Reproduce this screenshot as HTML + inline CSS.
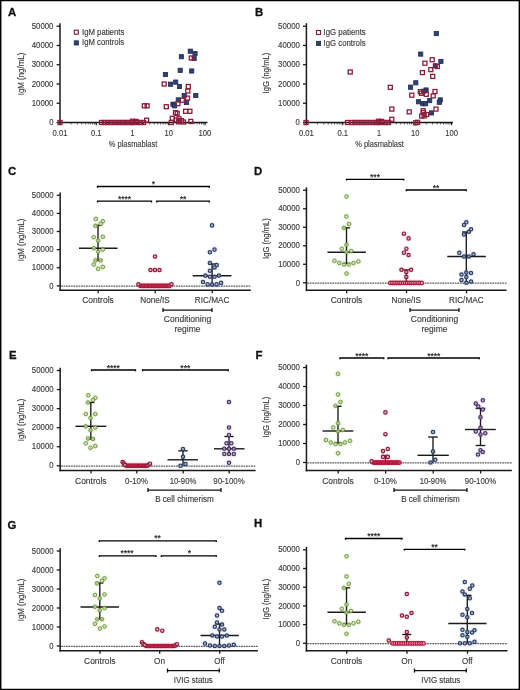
<!DOCTYPE html>
<html lang="en">
<head>
<meta charset="utf-8">
<title>Figure: IgM and IgG secretion</title>
<style>
html,body{margin:0;padding:0;background:#fff;}
body{width:520px;height:690px;overflow:hidden;}
svg{display:block;font-family:"Liberation Sans",sans-serif;}
</style>
</head>
<body>
<svg width="520" height="690" viewBox="0 0 520 690">
<rect width="520" height="690" fill="#fff"/>
<circle cx="95.80" cy="218.90" r="3.6" fill="#e6f5cf" fill-opacity="0.45"/>
<circle cx="102.80" cy="221.30" r="3.6" fill="#e6f5cf" fill-opacity="0.45"/>
<circle cx="100.70" cy="223.80" r="3.6" fill="#e6f5cf" fill-opacity="0.45"/>
<circle cx="95.50" cy="225.80" r="3.6" fill="#e6f5cf" fill-opacity="0.45"/>
<circle cx="93.70" cy="237.20" r="3.6" fill="#e6f5cf" fill-opacity="0.45"/>
<circle cx="102.80" cy="236.80" r="3.6" fill="#e6f5cf" fill-opacity="0.45"/>
<circle cx="98.10" cy="240.60" r="3.6" fill="#e6f5cf" fill-opacity="0.45"/>
<circle cx="93.90" cy="248.20" r="3.6" fill="#e6f5cf" fill-opacity="0.45"/>
<circle cx="102.80" cy="249.60" r="3.6" fill="#e6f5cf" fill-opacity="0.45"/>
<circle cx="98.20" cy="251.70" r="3.6" fill="#e6f5cf" fill-opacity="0.45"/>
<circle cx="95.50" cy="260.30" r="3.6" fill="#e6f5cf" fill-opacity="0.45"/>
<circle cx="100.70" cy="260.40" r="3.6" fill="#e6f5cf" fill-opacity="0.45"/>
<circle cx="93.80" cy="264.50" r="3.6" fill="#e6f5cf" fill-opacity="0.45"/>
<circle cx="102.80" cy="266.90" r="3.6" fill="#e6f5cf" fill-opacity="0.45"/>
<circle cx="98.10" cy="268.80" r="3.6" fill="#e6f5cf" fill-opacity="0.45"/>
<circle cx="140.50" cy="285.90" r="3.6" fill="#fbe3e8" fill-opacity="0.45"/>
<circle cx="141.88" cy="285.90" r="3.6" fill="#fbe3e8" fill-opacity="0.45"/>
<circle cx="143.26" cy="285.90" r="3.6" fill="#fbe3e8" fill-opacity="0.45"/>
<circle cx="144.64" cy="285.90" r="3.6" fill="#fbe3e8" fill-opacity="0.45"/>
<circle cx="146.02" cy="285.90" r="3.6" fill="#fbe3e8" fill-opacity="0.45"/>
<circle cx="147.40" cy="285.90" r="3.6" fill="#fbe3e8" fill-opacity="0.45"/>
<circle cx="148.79" cy="285.90" r="3.6" fill="#fbe3e8" fill-opacity="0.45"/>
<circle cx="150.17" cy="285.90" r="3.6" fill="#fbe3e8" fill-opacity="0.45"/>
<circle cx="151.55" cy="285.90" r="3.6" fill="#fbe3e8" fill-opacity="0.45"/>
<circle cx="152.93" cy="285.90" r="3.6" fill="#fbe3e8" fill-opacity="0.45"/>
<circle cx="154.31" cy="285.90" r="3.6" fill="#fbe3e8" fill-opacity="0.45"/>
<circle cx="155.69" cy="285.90" r="3.6" fill="#fbe3e8" fill-opacity="0.45"/>
<circle cx="157.07" cy="285.90" r="3.6" fill="#fbe3e8" fill-opacity="0.45"/>
<circle cx="158.45" cy="285.90" r="3.6" fill="#fbe3e8" fill-opacity="0.45"/>
<circle cx="159.83" cy="285.90" r="3.6" fill="#fbe3e8" fill-opacity="0.45"/>
<circle cx="161.21" cy="285.90" r="3.6" fill="#fbe3e8" fill-opacity="0.45"/>
<circle cx="162.60" cy="285.90" r="3.6" fill="#fbe3e8" fill-opacity="0.45"/>
<circle cx="163.98" cy="285.90" r="3.6" fill="#fbe3e8" fill-opacity="0.45"/>
<circle cx="165.36" cy="285.90" r="3.6" fill="#fbe3e8" fill-opacity="0.45"/>
<circle cx="166.74" cy="285.90" r="3.6" fill="#fbe3e8" fill-opacity="0.45"/>
<circle cx="168.12" cy="285.90" r="3.6" fill="#fbe3e8" fill-opacity="0.45"/>
<circle cx="169.50" cy="285.90" r="3.6" fill="#fbe3e8" fill-opacity="0.45"/>
<circle cx="138.40" cy="284.30" r="3.6" fill="#fbe3e8" fill-opacity="0.45"/>
<circle cx="171.50" cy="284.30" r="3.6" fill="#fbe3e8" fill-opacity="0.45"/>
<circle cx="155.00" cy="256.50" r="3.6" fill="#fbe3e8" fill-opacity="0.45"/>
<circle cx="150.50" cy="270.00" r="3.6" fill="#fbe3e8" fill-opacity="0.45"/>
<circle cx="155.00" cy="270.00" r="3.6" fill="#fbe3e8" fill-opacity="0.45"/>
<circle cx="159.50" cy="270.00" r="3.6" fill="#fbe3e8" fill-opacity="0.45"/>
<circle cx="212.10" cy="225.40" r="3.6" fill="#e0e8f6" fill-opacity="0.45"/>
<circle cx="214.50" cy="249.60" r="3.6" fill="#e0e8f6" fill-opacity="0.45"/>
<circle cx="209.90" cy="252.30" r="3.6" fill="#e0e8f6" fill-opacity="0.45"/>
<circle cx="209.90" cy="263.00" r="3.6" fill="#e0e8f6" fill-opacity="0.45"/>
<circle cx="216.70" cy="265.10" r="3.6" fill="#e0e8f6" fill-opacity="0.45"/>
<circle cx="214.50" cy="267.50" r="3.6" fill="#e0e8f6" fill-opacity="0.45"/>
<circle cx="209.90" cy="270.70" r="3.6" fill="#e0e8f6" fill-opacity="0.45"/>
<circle cx="205.40" cy="275.60" r="3.6" fill="#e0e8f6" fill-opacity="0.45"/>
<circle cx="209.90" cy="276.70" r="3.6" fill="#e0e8f6" fill-opacity="0.45"/>
<circle cx="214.50" cy="276.80" r="3.6" fill="#e0e8f6" fill-opacity="0.45"/>
<circle cx="218.90" cy="275.60" r="3.6" fill="#e0e8f6" fill-opacity="0.45"/>
<circle cx="203.00" cy="282.00" r="3.6" fill="#e0e8f6" fill-opacity="0.45"/>
<circle cx="221.10" cy="282.90" r="3.6" fill="#e0e8f6" fill-opacity="0.45"/>
<circle cx="207.60" cy="284.40" r="3.6" fill="#e0e8f6" fill-opacity="0.45"/>
<circle cx="212.10" cy="284.60" r="3.6" fill="#e0e8f6" fill-opacity="0.45"/>
<circle cx="216.60" cy="284.40" r="3.6" fill="#e0e8f6" fill-opacity="0.45"/>
<circle cx="346.50" cy="196.50" r="3.6" fill="#e6f5cf" fill-opacity="0.45"/>
<circle cx="346.30" cy="216.50" r="3.6" fill="#e6f5cf" fill-opacity="0.45"/>
<circle cx="349.00" cy="224.00" r="3.6" fill="#e6f5cf" fill-opacity="0.45"/>
<circle cx="344.00" cy="227.80" r="3.6" fill="#e6f5cf" fill-opacity="0.45"/>
<circle cx="346.50" cy="244.80" r="3.6" fill="#e6f5cf" fill-opacity="0.45"/>
<circle cx="341.80" cy="248.80" r="3.6" fill="#e6f5cf" fill-opacity="0.45"/>
<circle cx="351.20" cy="251.00" r="3.6" fill="#e6f5cf" fill-opacity="0.45"/>
<circle cx="346.50" cy="252.30" r="3.6" fill="#e6f5cf" fill-opacity="0.45"/>
<circle cx="334.50" cy="260.80" r="3.6" fill="#e6f5cf" fill-opacity="0.45"/>
<circle cx="358.30" cy="261.50" r="3.6" fill="#e6f5cf" fill-opacity="0.45"/>
<circle cx="339.30" cy="263.00" r="3.6" fill="#e6f5cf" fill-opacity="0.45"/>
<circle cx="353.50" cy="263.00" r="3.6" fill="#e6f5cf" fill-opacity="0.45"/>
<circle cx="344.00" cy="264.50" r="3.6" fill="#e6f5cf" fill-opacity="0.45"/>
<circle cx="348.80" cy="264.50" r="3.6" fill="#e6f5cf" fill-opacity="0.45"/>
<circle cx="346.50" cy="273.50" r="3.6" fill="#e6f5cf" fill-opacity="0.45"/>
<circle cx="390.30" cy="282.90" r="3.6" fill="#fbe3e8" fill-opacity="0.45"/>
<circle cx="392.40" cy="282.90" r="3.6" fill="#fbe3e8" fill-opacity="0.45"/>
<circle cx="394.50" cy="282.90" r="3.6" fill="#fbe3e8" fill-opacity="0.45"/>
<circle cx="396.60" cy="282.90" r="3.6" fill="#fbe3e8" fill-opacity="0.45"/>
<circle cx="398.70" cy="282.90" r="3.6" fill="#fbe3e8" fill-opacity="0.45"/>
<circle cx="400.80" cy="282.90" r="3.6" fill="#fbe3e8" fill-opacity="0.45"/>
<circle cx="402.90" cy="282.90" r="3.6" fill="#fbe3e8" fill-opacity="0.45"/>
<circle cx="405.00" cy="282.90" r="3.6" fill="#fbe3e8" fill-opacity="0.45"/>
<circle cx="407.10" cy="282.90" r="3.6" fill="#fbe3e8" fill-opacity="0.45"/>
<circle cx="409.20" cy="282.90" r="3.6" fill="#fbe3e8" fill-opacity="0.45"/>
<circle cx="411.30" cy="282.90" r="3.6" fill="#fbe3e8" fill-opacity="0.45"/>
<circle cx="413.40" cy="282.90" r="3.6" fill="#fbe3e8" fill-opacity="0.45"/>
<circle cx="415.50" cy="282.90" r="3.6" fill="#fbe3e8" fill-opacity="0.45"/>
<circle cx="417.60" cy="282.90" r="3.6" fill="#fbe3e8" fill-opacity="0.45"/>
<circle cx="419.70" cy="282.90" r="3.6" fill="#fbe3e8" fill-opacity="0.45"/>
<circle cx="421.80" cy="282.90" r="3.6" fill="#fbe3e8" fill-opacity="0.45"/>
<circle cx="403.90" cy="233.70" r="3.6" fill="#fbe3e8" fill-opacity="0.45"/>
<circle cx="408.60" cy="238.40" r="3.6" fill="#fbe3e8" fill-opacity="0.45"/>
<circle cx="406.40" cy="248.70" r="3.6" fill="#fbe3e8" fill-opacity="0.45"/>
<circle cx="403.90" cy="252.70" r="3.6" fill="#fbe3e8" fill-opacity="0.45"/>
<circle cx="408.60" cy="255.00" r="3.6" fill="#fbe3e8" fill-opacity="0.45"/>
<circle cx="401.50" cy="269.80" r="3.6" fill="#fbe3e8" fill-opacity="0.45"/>
<circle cx="411.10" cy="269.80" r="3.6" fill="#fbe3e8" fill-opacity="0.45"/>
<circle cx="406.30" cy="272.10" r="3.6" fill="#fbe3e8" fill-opacity="0.45"/>
<circle cx="406.30" cy="276.90" r="3.6" fill="#fbe3e8" fill-opacity="0.45"/>
<circle cx="466.30" cy="222.30" r="3.6" fill="#e0e8f6" fill-opacity="0.45"/>
<circle cx="464.00" cy="225.00" r="3.6" fill="#e0e8f6" fill-opacity="0.45"/>
<circle cx="471.00" cy="229.30" r="3.6" fill="#e0e8f6" fill-opacity="0.45"/>
<circle cx="468.80" cy="231.80" r="3.6" fill="#e0e8f6" fill-opacity="0.45"/>
<circle cx="464.00" cy="234.50" r="3.6" fill="#e0e8f6" fill-opacity="0.45"/>
<circle cx="459.30" cy="252.80" r="3.6" fill="#e0e8f6" fill-opacity="0.45"/>
<circle cx="473.50" cy="254.30" r="3.6" fill="#e0e8f6" fill-opacity="0.45"/>
<circle cx="464.00" cy="256.50" r="3.6" fill="#e0e8f6" fill-opacity="0.45"/>
<circle cx="468.80" cy="256.50" r="3.6" fill="#e0e8f6" fill-opacity="0.45"/>
<circle cx="466.30" cy="272.50" r="3.6" fill="#e0e8f6" fill-opacity="0.45"/>
<circle cx="471.00" cy="273.00" r="3.6" fill="#e0e8f6" fill-opacity="0.45"/>
<circle cx="461.50" cy="274.50" r="3.6" fill="#e0e8f6" fill-opacity="0.45"/>
<circle cx="466.30" cy="277.00" r="3.6" fill="#e0e8f6" fill-opacity="0.45"/>
<circle cx="461.50" cy="280.00" r="3.6" fill="#e0e8f6" fill-opacity="0.45"/>
<circle cx="471.00" cy="281.50" r="3.6" fill="#e0e8f6" fill-opacity="0.45"/>
<circle cx="466.30" cy="282.80" r="3.6" fill="#e0e8f6" fill-opacity="0.45"/>
<circle cx="88.30" cy="395.30" r="3.6" fill="#e6f5cf" fill-opacity="0.45"/>
<circle cx="95.30" cy="397.80" r="3.6" fill="#e6f5cf" fill-opacity="0.45"/>
<circle cx="93.00" cy="400.00" r="3.6" fill="#e6f5cf" fill-opacity="0.45"/>
<circle cx="88.00" cy="402.50" r="3.6" fill="#e6f5cf" fill-opacity="0.45"/>
<circle cx="85.80" cy="414.00" r="3.6" fill="#e6f5cf" fill-opacity="0.45"/>
<circle cx="95.30" cy="414.00" r="3.6" fill="#e6f5cf" fill-opacity="0.45"/>
<circle cx="90.50" cy="418.00" r="3.6" fill="#e6f5cf" fill-opacity="0.45"/>
<circle cx="85.80" cy="426.30" r="3.6" fill="#e6f5cf" fill-opacity="0.45"/>
<circle cx="95.30" cy="427.50" r="3.6" fill="#e6f5cf" fill-opacity="0.45"/>
<circle cx="90.50" cy="430.30" r="3.6" fill="#e6f5cf" fill-opacity="0.45"/>
<circle cx="88.00" cy="438.50" r="3.6" fill="#e6f5cf" fill-opacity="0.45"/>
<circle cx="93.00" cy="439.00" r="3.6" fill="#e6f5cf" fill-opacity="0.45"/>
<circle cx="85.80" cy="443.30" r="3.6" fill="#e6f5cf" fill-opacity="0.45"/>
<circle cx="95.30" cy="446.00" r="3.6" fill="#e6f5cf" fill-opacity="0.45"/>
<circle cx="90.50" cy="447.80" r="3.6" fill="#e6f5cf" fill-opacity="0.45"/>
<circle cx="126.50" cy="465.80" r="3.6" fill="#fbe3e8" fill-opacity="0.45"/>
<circle cx="127.53" cy="465.80" r="3.6" fill="#fbe3e8" fill-opacity="0.45"/>
<circle cx="128.55" cy="465.80" r="3.6" fill="#fbe3e8" fill-opacity="0.45"/>
<circle cx="129.57" cy="465.80" r="3.6" fill="#fbe3e8" fill-opacity="0.45"/>
<circle cx="130.60" cy="465.80" r="3.6" fill="#fbe3e8" fill-opacity="0.45"/>
<circle cx="131.62" cy="465.80" r="3.6" fill="#fbe3e8" fill-opacity="0.45"/>
<circle cx="132.65" cy="465.80" r="3.6" fill="#fbe3e8" fill-opacity="0.45"/>
<circle cx="133.68" cy="465.80" r="3.6" fill="#fbe3e8" fill-opacity="0.45"/>
<circle cx="134.70" cy="465.80" r="3.6" fill="#fbe3e8" fill-opacity="0.45"/>
<circle cx="135.72" cy="465.80" r="3.6" fill="#fbe3e8" fill-opacity="0.45"/>
<circle cx="136.75" cy="465.80" r="3.6" fill="#fbe3e8" fill-opacity="0.45"/>
<circle cx="137.78" cy="465.80" r="3.6" fill="#fbe3e8" fill-opacity="0.45"/>
<circle cx="138.80" cy="465.80" r="3.6" fill="#fbe3e8" fill-opacity="0.45"/>
<circle cx="139.82" cy="465.80" r="3.6" fill="#fbe3e8" fill-opacity="0.45"/>
<circle cx="140.85" cy="465.80" r="3.6" fill="#fbe3e8" fill-opacity="0.45"/>
<circle cx="141.88" cy="465.80" r="3.6" fill="#fbe3e8" fill-opacity="0.45"/>
<circle cx="142.90" cy="465.80" r="3.6" fill="#fbe3e8" fill-opacity="0.45"/>
<circle cx="143.93" cy="465.80" r="3.6" fill="#fbe3e8" fill-opacity="0.45"/>
<circle cx="144.95" cy="465.80" r="3.6" fill="#fbe3e8" fill-opacity="0.45"/>
<circle cx="145.97" cy="465.80" r="3.6" fill="#fbe3e8" fill-opacity="0.45"/>
<circle cx="147.00" cy="465.80" r="3.6" fill="#fbe3e8" fill-opacity="0.45"/>
<circle cx="122.60" cy="462.00" r="3.6" fill="#fbe3e8" fill-opacity="0.45"/>
<circle cx="123.80" cy="463.60" r="3.6" fill="#fbe3e8" fill-opacity="0.45"/>
<circle cx="125.00" cy="464.90" r="3.6" fill="#fbe3e8" fill-opacity="0.45"/>
<circle cx="148.50" cy="464.90" r="3.6" fill="#fbe3e8" fill-opacity="0.45"/>
<circle cx="150.00" cy="463.70" r="3.6" fill="#fbe3e8" fill-opacity="0.45"/>
<circle cx="183.00" cy="449.00" r="3.6" fill="#e0e8f6" fill-opacity="0.45"/>
<circle cx="183.00" cy="456.80" r="3.6" fill="#e0e8f6" fill-opacity="0.45"/>
<circle cx="180.50" cy="465.80" r="3.6" fill="#e0e8f6" fill-opacity="0.45"/>
<circle cx="185.50" cy="464.00" r="3.6" fill="#e0e8f6" fill-opacity="0.45"/>
<circle cx="229.00" cy="402.00" r="3.6" fill="#ece2f6" fill-opacity="0.45"/>
<circle cx="229.00" cy="427.50" r="3.6" fill="#ece2f6" fill-opacity="0.45"/>
<circle cx="229.00" cy="435.00" r="3.6" fill="#ece2f6" fill-opacity="0.45"/>
<circle cx="231.30" cy="443.30" r="3.6" fill="#ece2f6" fill-opacity="0.45"/>
<circle cx="226.50" cy="443.30" r="3.6" fill="#ece2f6" fill-opacity="0.45"/>
<circle cx="224.30" cy="448.80" r="3.6" fill="#ece2f6" fill-opacity="0.45"/>
<circle cx="229.00" cy="448.80" r="3.6" fill="#ece2f6" fill-opacity="0.45"/>
<circle cx="233.80" cy="448.80" r="3.6" fill="#ece2f6" fill-opacity="0.45"/>
<circle cx="224.30" cy="454.00" r="3.6" fill="#ece2f6" fill-opacity="0.45"/>
<circle cx="229.00" cy="454.00" r="3.6" fill="#ece2f6" fill-opacity="0.45"/>
<circle cx="233.80" cy="454.00" r="3.6" fill="#ece2f6" fill-opacity="0.45"/>
<circle cx="229.00" cy="462.80" r="3.6" fill="#ece2f6" fill-opacity="0.45"/>
<circle cx="338.00" cy="373.80" r="3.6" fill="#e6f5cf" fill-opacity="0.45"/>
<circle cx="338.00" cy="394.50" r="3.6" fill="#e6f5cf" fill-opacity="0.45"/>
<circle cx="340.50" cy="402.00" r="3.6" fill="#e6f5cf" fill-opacity="0.45"/>
<circle cx="335.50" cy="405.80" r="3.6" fill="#e6f5cf" fill-opacity="0.45"/>
<circle cx="338.00" cy="423.30" r="3.6" fill="#e6f5cf" fill-opacity="0.45"/>
<circle cx="333.30" cy="427.50" r="3.6" fill="#e6f5cf" fill-opacity="0.45"/>
<circle cx="342.80" cy="430.00" r="3.6" fill="#e6f5cf" fill-opacity="0.45"/>
<circle cx="338.00" cy="431.30" r="3.6" fill="#e6f5cf" fill-opacity="0.45"/>
<circle cx="326.00" cy="440.00" r="3.6" fill="#e6f5cf" fill-opacity="0.45"/>
<circle cx="350.00" cy="440.80" r="3.6" fill="#e6f5cf" fill-opacity="0.45"/>
<circle cx="330.80" cy="442.50" r="3.6" fill="#e6f5cf" fill-opacity="0.45"/>
<circle cx="345.00" cy="442.50" r="3.6" fill="#e6f5cf" fill-opacity="0.45"/>
<circle cx="335.50" cy="444.00" r="3.6" fill="#e6f5cf" fill-opacity="0.45"/>
<circle cx="340.50" cy="444.00" r="3.6" fill="#e6f5cf" fill-opacity="0.45"/>
<circle cx="338.00" cy="453.30" r="3.6" fill="#e6f5cf" fill-opacity="0.45"/>
<circle cx="373.50" cy="462.60" r="3.6" fill="#fbe3e8" fill-opacity="0.45"/>
<circle cx="374.87" cy="462.60" r="3.6" fill="#fbe3e8" fill-opacity="0.45"/>
<circle cx="376.24" cy="462.60" r="3.6" fill="#fbe3e8" fill-opacity="0.45"/>
<circle cx="377.61" cy="462.60" r="3.6" fill="#fbe3e8" fill-opacity="0.45"/>
<circle cx="378.97" cy="462.60" r="3.6" fill="#fbe3e8" fill-opacity="0.45"/>
<circle cx="380.34" cy="462.60" r="3.6" fill="#fbe3e8" fill-opacity="0.45"/>
<circle cx="381.71" cy="462.60" r="3.6" fill="#fbe3e8" fill-opacity="0.45"/>
<circle cx="383.08" cy="462.60" r="3.6" fill="#fbe3e8" fill-opacity="0.45"/>
<circle cx="384.45" cy="462.60" r="3.6" fill="#fbe3e8" fill-opacity="0.45"/>
<circle cx="385.82" cy="462.60" r="3.6" fill="#fbe3e8" fill-opacity="0.45"/>
<circle cx="387.18" cy="462.60" r="3.6" fill="#fbe3e8" fill-opacity="0.45"/>
<circle cx="388.55" cy="462.60" r="3.6" fill="#fbe3e8" fill-opacity="0.45"/>
<circle cx="389.92" cy="462.60" r="3.6" fill="#fbe3e8" fill-opacity="0.45"/>
<circle cx="391.29" cy="462.60" r="3.6" fill="#fbe3e8" fill-opacity="0.45"/>
<circle cx="392.66" cy="462.60" r="3.6" fill="#fbe3e8" fill-opacity="0.45"/>
<circle cx="394.03" cy="462.60" r="3.6" fill="#fbe3e8" fill-opacity="0.45"/>
<circle cx="395.39" cy="462.60" r="3.6" fill="#fbe3e8" fill-opacity="0.45"/>
<circle cx="396.76" cy="462.60" r="3.6" fill="#fbe3e8" fill-opacity="0.45"/>
<circle cx="398.13" cy="462.60" r="3.6" fill="#fbe3e8" fill-opacity="0.45"/>
<circle cx="399.50" cy="462.60" r="3.6" fill="#fbe3e8" fill-opacity="0.45"/>
<circle cx="371.60" cy="461.40" r="3.6" fill="#fbe3e8" fill-opacity="0.45"/>
<circle cx="385.40" cy="412.40" r="3.6" fill="#fbe3e8" fill-opacity="0.45"/>
<circle cx="385.40" cy="434.20" r="3.6" fill="#fbe3e8" fill-opacity="0.45"/>
<circle cx="387.80" cy="449.00" r="3.6" fill="#fbe3e8" fill-opacity="0.45"/>
<circle cx="383.00" cy="451.10" r="3.6" fill="#fbe3e8" fill-opacity="0.45"/>
<circle cx="383.00" cy="456.90" r="3.6" fill="#fbe3e8" fill-opacity="0.45"/>
<circle cx="387.80" cy="456.90" r="3.6" fill="#fbe3e8" fill-opacity="0.45"/>
<circle cx="433.00" cy="432.00" r="3.6" fill="#e0e8f6" fill-opacity="0.45"/>
<circle cx="433.00" cy="451.50" r="3.6" fill="#e0e8f6" fill-opacity="0.45"/>
<circle cx="435.30" cy="459.80" r="3.6" fill="#e0e8f6" fill-opacity="0.45"/>
<circle cx="430.50" cy="462.50" r="3.6" fill="#e0e8f6" fill-opacity="0.45"/>
<circle cx="482.80" cy="400.30" r="3.6" fill="#ece2f6" fill-opacity="0.45"/>
<circle cx="475.80" cy="403.50" r="3.6" fill="#ece2f6" fill-opacity="0.45"/>
<circle cx="478.30" cy="406.50" r="3.6" fill="#ece2f6" fill-opacity="0.45"/>
<circle cx="482.80" cy="409.50" r="3.6" fill="#ece2f6" fill-opacity="0.45"/>
<circle cx="480.50" cy="417.30" r="3.6" fill="#ece2f6" fill-opacity="0.45"/>
<circle cx="480.50" cy="427.80" r="3.6" fill="#ece2f6" fill-opacity="0.45"/>
<circle cx="475.80" cy="431.50" r="3.6" fill="#ece2f6" fill-opacity="0.45"/>
<circle cx="485.30" cy="433.30" r="3.6" fill="#ece2f6" fill-opacity="0.45"/>
<circle cx="480.50" cy="434.50" r="3.6" fill="#ece2f6" fill-opacity="0.45"/>
<circle cx="480.50" cy="450.30" r="3.6" fill="#ece2f6" fill-opacity="0.45"/>
<circle cx="482.80" cy="452.00" r="3.6" fill="#ece2f6" fill-opacity="0.45"/>
<circle cx="478.00" cy="454.50" r="3.6" fill="#ece2f6" fill-opacity="0.45"/>
<circle cx="97.30" cy="576.00" r="3.6" fill="#e6f5cf" fill-opacity="0.45"/>
<circle cx="104.50" cy="578.30" r="3.6" fill="#e6f5cf" fill-opacity="0.45"/>
<circle cx="102.00" cy="580.80" r="3.6" fill="#e6f5cf" fill-opacity="0.45"/>
<circle cx="97.00" cy="583.30" r="3.6" fill="#e6f5cf" fill-opacity="0.45"/>
<circle cx="95.00" cy="595.00" r="3.6" fill="#e6f5cf" fill-opacity="0.45"/>
<circle cx="104.50" cy="594.50" r="3.6" fill="#e6f5cf" fill-opacity="0.45"/>
<circle cx="99.80" cy="598.30" r="3.6" fill="#e6f5cf" fill-opacity="0.45"/>
<circle cx="95.00" cy="606.80" r="3.6" fill="#e6f5cf" fill-opacity="0.45"/>
<circle cx="104.50" cy="608.00" r="3.6" fill="#e6f5cf" fill-opacity="0.45"/>
<circle cx="99.80" cy="610.30" r="3.6" fill="#e6f5cf" fill-opacity="0.45"/>
<circle cx="97.30" cy="619.30" r="3.6" fill="#e6f5cf" fill-opacity="0.45"/>
<circle cx="102.00" cy="619.30" r="3.6" fill="#e6f5cf" fill-opacity="0.45"/>
<circle cx="95.00" cy="623.80" r="3.6" fill="#e6f5cf" fill-opacity="0.45"/>
<circle cx="104.50" cy="626.50" r="3.6" fill="#e6f5cf" fill-opacity="0.45"/>
<circle cx="99.80" cy="628.50" r="3.6" fill="#e6f5cf" fill-opacity="0.45"/>
<circle cx="146.50" cy="646.00" r="3.6" fill="#fbe3e8" fill-opacity="0.45"/>
<circle cx="147.88" cy="646.00" r="3.6" fill="#fbe3e8" fill-opacity="0.45"/>
<circle cx="149.25" cy="646.00" r="3.6" fill="#fbe3e8" fill-opacity="0.45"/>
<circle cx="150.62" cy="646.00" r="3.6" fill="#fbe3e8" fill-opacity="0.45"/>
<circle cx="152.00" cy="646.00" r="3.6" fill="#fbe3e8" fill-opacity="0.45"/>
<circle cx="153.38" cy="646.00" r="3.6" fill="#fbe3e8" fill-opacity="0.45"/>
<circle cx="154.75" cy="646.00" r="3.6" fill="#fbe3e8" fill-opacity="0.45"/>
<circle cx="156.12" cy="646.00" r="3.6" fill="#fbe3e8" fill-opacity="0.45"/>
<circle cx="157.50" cy="646.00" r="3.6" fill="#fbe3e8" fill-opacity="0.45"/>
<circle cx="158.88" cy="646.00" r="3.6" fill="#fbe3e8" fill-opacity="0.45"/>
<circle cx="160.25" cy="646.00" r="3.6" fill="#fbe3e8" fill-opacity="0.45"/>
<circle cx="161.62" cy="646.00" r="3.6" fill="#fbe3e8" fill-opacity="0.45"/>
<circle cx="163.00" cy="646.00" r="3.6" fill="#fbe3e8" fill-opacity="0.45"/>
<circle cx="164.38" cy="646.00" r="3.6" fill="#fbe3e8" fill-opacity="0.45"/>
<circle cx="165.75" cy="646.00" r="3.6" fill="#fbe3e8" fill-opacity="0.45"/>
<circle cx="167.12" cy="646.00" r="3.6" fill="#fbe3e8" fill-opacity="0.45"/>
<circle cx="168.50" cy="646.00" r="3.6" fill="#fbe3e8" fill-opacity="0.45"/>
<circle cx="169.88" cy="646.00" r="3.6" fill="#fbe3e8" fill-opacity="0.45"/>
<circle cx="171.25" cy="646.00" r="3.6" fill="#fbe3e8" fill-opacity="0.45"/>
<circle cx="172.62" cy="646.00" r="3.6" fill="#fbe3e8" fill-opacity="0.45"/>
<circle cx="174.00" cy="646.00" r="3.6" fill="#fbe3e8" fill-opacity="0.45"/>
<circle cx="141.90" cy="642.20" r="3.6" fill="#fbe3e8" fill-opacity="0.45"/>
<circle cx="143.20" cy="643.80" r="3.6" fill="#fbe3e8" fill-opacity="0.45"/>
<circle cx="144.80" cy="645.10" r="3.6" fill="#fbe3e8" fill-opacity="0.45"/>
<circle cx="175.40" cy="645.40" r="3.6" fill="#fbe3e8" fill-opacity="0.45"/>
<circle cx="176.90" cy="644.20" r="3.6" fill="#fbe3e8" fill-opacity="0.45"/>
<circle cx="157.30" cy="629.40" r="3.6" fill="#fbe3e8" fill-opacity="0.45"/>
<circle cx="162.30" cy="630.70" r="3.6" fill="#fbe3e8" fill-opacity="0.45"/>
<circle cx="219.50" cy="582.80" r="3.6" fill="#e0e8f6" fill-opacity="0.45"/>
<circle cx="219.50" cy="608.00" r="3.6" fill="#e0e8f6" fill-opacity="0.45"/>
<circle cx="222.00" cy="610.80" r="3.6" fill="#e0e8f6" fill-opacity="0.45"/>
<circle cx="217.00" cy="615.50" r="3.6" fill="#e0e8f6" fill-opacity="0.45"/>
<circle cx="217.00" cy="622.50" r="3.6" fill="#e0e8f6" fill-opacity="0.45"/>
<circle cx="222.00" cy="624.50" r="3.6" fill="#e0e8f6" fill-opacity="0.45"/>
<circle cx="214.80" cy="626.80" r="3.6" fill="#e0e8f6" fill-opacity="0.45"/>
<circle cx="219.50" cy="629.50" r="3.6" fill="#e0e8f6" fill-opacity="0.45"/>
<circle cx="224.30" cy="629.50" r="3.6" fill="#e0e8f6" fill-opacity="0.45"/>
<circle cx="212.30" cy="635.50" r="3.6" fill="#e0e8f6" fill-opacity="0.45"/>
<circle cx="217.00" cy="636.50" r="3.6" fill="#e0e8f6" fill-opacity="0.45"/>
<circle cx="222.00" cy="636.50" r="3.6" fill="#e0e8f6" fill-opacity="0.45"/>
<circle cx="226.80" cy="635.50" r="3.6" fill="#e0e8f6" fill-opacity="0.45"/>
<circle cx="205.00" cy="643.50" r="3.6" fill="#e0e8f6" fill-opacity="0.45"/>
<circle cx="210.00" cy="645.50" r="3.6" fill="#e0e8f6" fill-opacity="0.45"/>
<circle cx="214.80" cy="646.00" r="3.6" fill="#e0e8f6" fill-opacity="0.45"/>
<circle cx="219.50" cy="646.00" r="3.6" fill="#e0e8f6" fill-opacity="0.45"/>
<circle cx="224.30" cy="646.00" r="3.6" fill="#e0e8f6" fill-opacity="0.45"/>
<circle cx="229.00" cy="645.50" r="3.6" fill="#e0e8f6" fill-opacity="0.45"/>
<circle cx="233.80" cy="644.80" r="3.6" fill="#e0e8f6" fill-opacity="0.45"/>
<circle cx="346.50" cy="556.30" r="3.6" fill="#e6f5cf" fill-opacity="0.45"/>
<circle cx="346.50" cy="576.50" r="3.6" fill="#e6f5cf" fill-opacity="0.45"/>
<circle cx="348.80" cy="583.80" r="3.6" fill="#e6f5cf" fill-opacity="0.45"/>
<circle cx="344.00" cy="587.80" r="3.6" fill="#e6f5cf" fill-opacity="0.45"/>
<circle cx="346.50" cy="604.50" r="3.6" fill="#e6f5cf" fill-opacity="0.45"/>
<circle cx="341.80" cy="608.80" r="3.6" fill="#e6f5cf" fill-opacity="0.45"/>
<circle cx="351.00" cy="611.00" r="3.6" fill="#e6f5cf" fill-opacity="0.45"/>
<circle cx="346.50" cy="612.50" r="3.6" fill="#e6f5cf" fill-opacity="0.45"/>
<circle cx="334.50" cy="621.30" r="3.6" fill="#e6f5cf" fill-opacity="0.45"/>
<circle cx="358.30" cy="621.80" r="3.6" fill="#e6f5cf" fill-opacity="0.45"/>
<circle cx="339.30" cy="623.30" r="3.6" fill="#e6f5cf" fill-opacity="0.45"/>
<circle cx="353.50" cy="623.30" r="3.6" fill="#e6f5cf" fill-opacity="0.45"/>
<circle cx="344.00" cy="624.80" r="3.6" fill="#e6f5cf" fill-opacity="0.45"/>
<circle cx="348.80" cy="624.80" r="3.6" fill="#e6f5cf" fill-opacity="0.45"/>
<circle cx="346.50" cy="633.80" r="3.6" fill="#e6f5cf" fill-opacity="0.45"/>
<circle cx="392.60" cy="643.40" r="3.6" fill="#fbe3e8" fill-opacity="0.45"/>
<circle cx="394.81" cy="643.40" r="3.6" fill="#fbe3e8" fill-opacity="0.45"/>
<circle cx="397.03" cy="643.40" r="3.6" fill="#fbe3e8" fill-opacity="0.45"/>
<circle cx="399.24" cy="643.40" r="3.6" fill="#fbe3e8" fill-opacity="0.45"/>
<circle cx="401.46" cy="643.40" r="3.6" fill="#fbe3e8" fill-opacity="0.45"/>
<circle cx="403.67" cy="643.40" r="3.6" fill="#fbe3e8" fill-opacity="0.45"/>
<circle cx="405.89" cy="643.40" r="3.6" fill="#fbe3e8" fill-opacity="0.45"/>
<circle cx="408.10" cy="643.40" r="3.6" fill="#fbe3e8" fill-opacity="0.45"/>
<circle cx="410.31" cy="643.40" r="3.6" fill="#fbe3e8" fill-opacity="0.45"/>
<circle cx="412.53" cy="643.40" r="3.6" fill="#fbe3e8" fill-opacity="0.45"/>
<circle cx="414.74" cy="643.40" r="3.6" fill="#fbe3e8" fill-opacity="0.45"/>
<circle cx="416.96" cy="643.40" r="3.6" fill="#fbe3e8" fill-opacity="0.45"/>
<circle cx="419.17" cy="643.40" r="3.6" fill="#fbe3e8" fill-opacity="0.45"/>
<circle cx="421.39" cy="643.40" r="3.6" fill="#fbe3e8" fill-opacity="0.45"/>
<circle cx="423.60" cy="643.40" r="3.6" fill="#fbe3e8" fill-opacity="0.45"/>
<circle cx="388.80" cy="640.50" r="3.6" fill="#fbe3e8" fill-opacity="0.45"/>
<circle cx="406.80" cy="594.00" r="3.6" fill="#fbe3e8" fill-opacity="0.45"/>
<circle cx="402.00" cy="615.50" r="3.6" fill="#fbe3e8" fill-opacity="0.45"/>
<circle cx="406.80" cy="616.80" r="3.6" fill="#fbe3e8" fill-opacity="0.45"/>
<circle cx="411.50" cy="613.00" r="3.6" fill="#fbe3e8" fill-opacity="0.45"/>
<circle cx="406.80" cy="632.00" r="3.6" fill="#fbe3e8" fill-opacity="0.45"/>
<circle cx="406.80" cy="637.50" r="3.6" fill="#fbe3e8" fill-opacity="0.45"/>
<circle cx="464.80" cy="582.00" r="3.6" fill="#e0e8f6" fill-opacity="0.45"/>
<circle cx="472.30" cy="585.50" r="3.6" fill="#e0e8f6" fill-opacity="0.45"/>
<circle cx="469.80" cy="588.80" r="3.6" fill="#e0e8f6" fill-opacity="0.45"/>
<circle cx="462.50" cy="591.50" r="3.6" fill="#e0e8f6" fill-opacity="0.45"/>
<circle cx="464.80" cy="594.50" r="3.6" fill="#e0e8f6" fill-opacity="0.45"/>
<circle cx="469.80" cy="598.30" r="3.6" fill="#e0e8f6" fill-opacity="0.45"/>
<circle cx="467.30" cy="609.00" r="3.6" fill="#e0e8f6" fill-opacity="0.45"/>
<circle cx="462.50" cy="614.80" r="3.6" fill="#e0e8f6" fill-opacity="0.45"/>
<circle cx="472.00" cy="613.00" r="3.6" fill="#e0e8f6" fill-opacity="0.45"/>
<circle cx="467.30" cy="617.30" r="3.6" fill="#e0e8f6" fill-opacity="0.45"/>
<circle cx="462.50" cy="629.80" r="3.6" fill="#e0e8f6" fill-opacity="0.45"/>
<circle cx="474.50" cy="630.30" r="3.6" fill="#e0e8f6" fill-opacity="0.45"/>
<circle cx="467.30" cy="632.00" r="3.6" fill="#e0e8f6" fill-opacity="0.45"/>
<circle cx="472.00" cy="632.50" r="3.6" fill="#e0e8f6" fill-opacity="0.45"/>
<circle cx="462.50" cy="635.30" r="3.6" fill="#e0e8f6" fill-opacity="0.45"/>
<circle cx="467.30" cy="636.80" r="3.6" fill="#e0e8f6" fill-opacity="0.45"/>
<circle cx="474.50" cy="641.80" r="3.6" fill="#e0e8f6" fill-opacity="0.45"/>
<circle cx="460.00" cy="643.30" r="3.6" fill="#e0e8f6" fill-opacity="0.45"/>
<circle cx="464.80" cy="643.30" r="3.6" fill="#e0e8f6" fill-opacity="0.45"/>
<circle cx="469.80" cy="643.30" r="3.6" fill="#e0e8f6" fill-opacity="0.45"/>
<text x="7.90" y="16.00" font-size="11.4" text-anchor="start" font-weight="bold" fill="#111" stroke="#111" stroke-width="0.3" stroke-linejoin="round">A</text>
<line x1="60.00" y1="23.20" x2="60.00" y2="123.25" stroke="#1a1a1a" stroke-width="1.5"/>
<line x1="56.60" y1="26.20" x2="60.00" y2="26.20" stroke="#1a1a1a" stroke-width="1.3"/>
<text x="53.50" y="29.00" font-size="8.8" text-anchor="end" textLength="21.80" lengthAdjust="spacingAndGlyphs" fill="#3c3c3c" stroke="#3c3c3c" stroke-width="0.15">50000</text>
<line x1="56.60" y1="45.46" x2="60.00" y2="45.46" stroke="#1a1a1a" stroke-width="1.3"/>
<text x="53.50" y="48.00" font-size="8.8" text-anchor="end" textLength="21.80" lengthAdjust="spacingAndGlyphs" fill="#3c3c3c" stroke="#3c3c3c" stroke-width="0.15">40000</text>
<line x1="56.60" y1="64.72" x2="60.00" y2="64.72" stroke="#1a1a1a" stroke-width="1.3"/>
<text x="53.50" y="67.00" font-size="8.8" text-anchor="end" textLength="21.80" lengthAdjust="spacingAndGlyphs" fill="#3c3c3c" stroke="#3c3c3c" stroke-width="0.15">30000</text>
<line x1="56.60" y1="83.98" x2="60.00" y2="83.98" stroke="#1a1a1a" stroke-width="1.3"/>
<text x="53.50" y="87.00" font-size="8.8" text-anchor="end" textLength="21.80" lengthAdjust="spacingAndGlyphs" fill="#3c3c3c" stroke="#3c3c3c" stroke-width="0.15">20000</text>
<line x1="56.60" y1="103.24" x2="60.00" y2="103.24" stroke="#1a1a1a" stroke-width="1.3"/>
<text x="53.50" y="106.00" font-size="8.8" text-anchor="end" textLength="21.80" lengthAdjust="spacingAndGlyphs" fill="#3c3c3c" stroke="#3c3c3c" stroke-width="0.15">10000</text>
<line x1="56.60" y1="122.50" x2="60.00" y2="122.50" stroke="#1a1a1a" stroke-width="1.3"/>
<text x="53.50" y="125.00" font-size="8.8" text-anchor="end" textLength="4.30" lengthAdjust="spacingAndGlyphs" fill="#3c3c3c" stroke="#3c3c3c" stroke-width="0.15">0</text>
<text x="24.40" y="74.00" font-size="9.4" text-anchor="middle" textLength="42.60" lengthAdjust="spacingAndGlyphs" transform="rotate(-90 24.40 74.00)" fill="#3c3c3c" stroke="#3c3c3c" stroke-width="0.15">IgM (ng/mL)</text>
<line x1="59.30" y1="122.60" x2="207.50" y2="122.60" stroke="#1a1a1a" stroke-width="1.5"/>
<line x1="60.00" y1="122.50" x2="60.00" y2="125.30" stroke="#1a1a1a" stroke-width="1.2"/>
<line x1="70.91" y1="122.50" x2="70.91" y2="124.40" stroke="#1a1a1a" stroke-width="0.8"/>
<line x1="77.30" y1="122.50" x2="77.30" y2="124.40" stroke="#1a1a1a" stroke-width="0.8"/>
<line x1="81.82" y1="122.50" x2="81.82" y2="124.40" stroke="#1a1a1a" stroke-width="0.8"/>
<line x1="85.34" y1="122.50" x2="85.34" y2="124.40" stroke="#1a1a1a" stroke-width="0.8"/>
<line x1="88.21" y1="122.50" x2="88.21" y2="124.40" stroke="#1a1a1a" stroke-width="0.8"/>
<line x1="90.63" y1="122.50" x2="90.63" y2="124.40" stroke="#1a1a1a" stroke-width="0.8"/>
<line x1="92.74" y1="122.50" x2="92.74" y2="124.40" stroke="#1a1a1a" stroke-width="0.8"/>
<line x1="94.59" y1="122.50" x2="94.59" y2="124.40" stroke="#1a1a1a" stroke-width="0.8"/>
<line x1="96.25" y1="122.50" x2="96.25" y2="125.30" stroke="#1a1a1a" stroke-width="1.2"/>
<line x1="107.16" y1="122.50" x2="107.16" y2="124.40" stroke="#1a1a1a" stroke-width="0.8"/>
<line x1="113.55" y1="122.50" x2="113.55" y2="124.40" stroke="#1a1a1a" stroke-width="0.8"/>
<line x1="118.07" y1="122.50" x2="118.07" y2="124.40" stroke="#1a1a1a" stroke-width="0.8"/>
<line x1="121.59" y1="122.50" x2="121.59" y2="124.40" stroke="#1a1a1a" stroke-width="0.8"/>
<line x1="124.46" y1="122.50" x2="124.46" y2="124.40" stroke="#1a1a1a" stroke-width="0.8"/>
<line x1="126.88" y1="122.50" x2="126.88" y2="124.40" stroke="#1a1a1a" stroke-width="0.8"/>
<line x1="128.99" y1="122.50" x2="128.99" y2="124.40" stroke="#1a1a1a" stroke-width="0.8"/>
<line x1="130.84" y1="122.50" x2="130.84" y2="124.40" stroke="#1a1a1a" stroke-width="0.8"/>
<line x1="132.50" y1="122.50" x2="132.50" y2="125.30" stroke="#1a1a1a" stroke-width="1.2"/>
<line x1="143.41" y1="122.50" x2="143.41" y2="124.40" stroke="#1a1a1a" stroke-width="0.8"/>
<line x1="149.80" y1="122.50" x2="149.80" y2="124.40" stroke="#1a1a1a" stroke-width="0.8"/>
<line x1="154.32" y1="122.50" x2="154.32" y2="124.40" stroke="#1a1a1a" stroke-width="0.8"/>
<line x1="157.84" y1="122.50" x2="157.84" y2="124.40" stroke="#1a1a1a" stroke-width="0.8"/>
<line x1="160.71" y1="122.50" x2="160.71" y2="124.40" stroke="#1a1a1a" stroke-width="0.8"/>
<line x1="163.13" y1="122.50" x2="163.13" y2="124.40" stroke="#1a1a1a" stroke-width="0.8"/>
<line x1="165.24" y1="122.50" x2="165.24" y2="124.40" stroke="#1a1a1a" stroke-width="0.8"/>
<line x1="167.09" y1="122.50" x2="167.09" y2="124.40" stroke="#1a1a1a" stroke-width="0.8"/>
<line x1="168.75" y1="122.50" x2="168.75" y2="125.30" stroke="#1a1a1a" stroke-width="1.2"/>
<line x1="179.66" y1="122.50" x2="179.66" y2="124.40" stroke="#1a1a1a" stroke-width="0.8"/>
<line x1="186.05" y1="122.50" x2="186.05" y2="124.40" stroke="#1a1a1a" stroke-width="0.8"/>
<line x1="190.57" y1="122.50" x2="190.57" y2="124.40" stroke="#1a1a1a" stroke-width="0.8"/>
<line x1="194.09" y1="122.50" x2="194.09" y2="124.40" stroke="#1a1a1a" stroke-width="0.8"/>
<line x1="196.96" y1="122.50" x2="196.96" y2="124.40" stroke="#1a1a1a" stroke-width="0.8"/>
<line x1="199.38" y1="122.50" x2="199.38" y2="124.40" stroke="#1a1a1a" stroke-width="0.8"/>
<line x1="201.49" y1="122.50" x2="201.49" y2="124.40" stroke="#1a1a1a" stroke-width="0.8"/>
<line x1="203.34" y1="122.50" x2="203.34" y2="124.40" stroke="#1a1a1a" stroke-width="0.8"/>
<line x1="205.00" y1="122.50" x2="205.00" y2="125.30" stroke="#1a1a1a" stroke-width="1.2"/>
<text x="60.00" y="136.00" font-size="8.8" text-anchor="middle" textLength="15.00" lengthAdjust="spacingAndGlyphs" fill="#3c3c3c" stroke="#3c3c3c" stroke-width="0.15">0.01</text>
<text x="96.25" y="136.00" font-size="8.8" text-anchor="middle" textLength="10.60" lengthAdjust="spacingAndGlyphs" fill="#3c3c3c" stroke="#3c3c3c" stroke-width="0.15">0.1</text>
<text x="132.50" y="136.00" font-size="8.8" text-anchor="middle" textLength="4.00" lengthAdjust="spacingAndGlyphs" fill="#3c3c3c" stroke="#3c3c3c" stroke-width="0.15">1</text>
<text x="168.75" y="136.00" font-size="8.8" text-anchor="middle" textLength="8.40" lengthAdjust="spacingAndGlyphs" fill="#3c3c3c" stroke="#3c3c3c" stroke-width="0.15">10</text>
<text x="205.00" y="136.00" font-size="8.8" text-anchor="middle" textLength="12.80" lengthAdjust="spacingAndGlyphs" fill="#3c3c3c" stroke="#3c3c3c" stroke-width="0.15">100</text>
<text x="133.00" y="147.00" font-size="9.6" text-anchor="middle" textLength="48.50" lengthAdjust="spacingAndGlyphs" fill="#3c3c3c" stroke="#3c3c3c" stroke-width="0.15">% plasmablast</text>
<rect x="74.30" y="30.20" width="4.0" height="4.0" fill="none" stroke="#8e1d3b" stroke-width="1.15"/>
<text x="82.00" y="35.00" font-size="8.5" text-anchor="start" textLength="42.30" lengthAdjust="spacingAndGlyphs" fill="#3c3c3c" stroke="#3c3c3c" stroke-width="0.15">IgM patients</text>
<rect x="74.20" y="40.80" width="4.20" height="4.20" fill="#2e4173" stroke="#1f2c54" stroke-width="0.8"/>
<text x="82.00" y="45.00" font-size="8.5" text-anchor="start" textLength="42.10" lengthAdjust="spacingAndGlyphs" fill="#3c3c3c" stroke="#3c3c3c" stroke-width="0.15">IgM controls</text>
<rect x="188.20" y="49.10" width="4.20" height="4.20" fill="#2e4173" stroke="#1f2c54" stroke-width="0.8"/>
<rect x="192.90" y="51.50" width="4.20" height="4.20" fill="#2e4173" stroke="#1f2c54" stroke-width="0.8"/>
<rect x="179.30" y="54.60" width="4.20" height="4.20" fill="#2e4173" stroke="#1f2c54" stroke-width="0.8"/>
<rect x="192.00" y="56.40" width="4.20" height="4.20" fill="#2e4173" stroke="#1f2c54" stroke-width="0.8"/>
<rect x="178.10" y="68.20" width="4.20" height="4.20" fill="#2e4173" stroke="#1f2c54" stroke-width="0.8"/>
<rect x="189.60" y="68.90" width="4.20" height="4.20" fill="#2e4173" stroke="#1f2c54" stroke-width="0.8"/>
<rect x="163.30" y="72.40" width="4.20" height="4.20" fill="#2e4173" stroke="#1f2c54" stroke-width="0.8"/>
<rect x="173.60" y="80.00" width="4.20" height="4.20" fill="#2e4173" stroke="#1f2c54" stroke-width="0.8"/>
<rect x="168.50" y="82.10" width="4.20" height="4.20" fill="#2e4173" stroke="#1f2c54" stroke-width="0.8"/>
<rect x="177.40" y="84.40" width="4.20" height="4.20" fill="#2e4173" stroke="#1f2c54" stroke-width="0.8"/>
<rect x="193.70" y="93.40" width="4.20" height="4.20" fill="#2e4173" stroke="#1f2c54" stroke-width="0.8"/>
<rect x="182.10" y="93.40" width="4.20" height="4.20" fill="#2e4173" stroke="#1f2c54" stroke-width="0.8"/>
<rect x="176.20" y="97.80" width="4.20" height="4.20" fill="#2e4173" stroke="#1f2c54" stroke-width="0.8"/>
<rect x="184.30" y="100.40" width="4.20" height="4.20" fill="#2e4173" stroke="#1f2c54" stroke-width="0.8"/>
<rect x="170.90" y="102.10" width="4.20" height="4.20" fill="#2e4173" stroke="#1f2c54" stroke-width="0.8"/>
<rect x="172.50" y="103.70" width="4.20" height="4.20" fill="#2e4173" stroke="#1f2c54" stroke-width="0.8"/>
<rect x="189.30" y="56.00" width="4.0" height="4.0" fill="none" stroke="#8e1d3b" stroke-width="1.3"/>
<rect x="162.20" y="82.00" width="4.0" height="4.0" fill="none" stroke="#8e1d3b" stroke-width="1.3"/>
<rect x="186.30" y="84.50" width="4.0" height="4.0" fill="none" stroke="#8e1d3b" stroke-width="1.3"/>
<rect x="185.80" y="89.00" width="4.0" height="4.0" fill="none" stroke="#8e1d3b" stroke-width="1.3"/>
<rect x="185.50" y="96.10" width="4.0" height="4.0" fill="none" stroke="#8e1d3b" stroke-width="1.3"/>
<rect x="180.30" y="98.20" width="4.0" height="4.0" fill="none" stroke="#8e1d3b" stroke-width="1.3"/>
<rect x="175.90" y="101.70" width="4.0" height="4.0" fill="none" stroke="#8e1d3b" stroke-width="1.3"/>
<rect x="142.30" y="103.80" width="4.0" height="4.0" fill="none" stroke="#8e1d3b" stroke-width="1.3"/>
<rect x="145.10" y="103.80" width="4.0" height="4.0" fill="none" stroke="#8e1d3b" stroke-width="1.3"/>
<rect x="164.30" y="104.70" width="4.0" height="4.0" fill="none" stroke="#8e1d3b" stroke-width="1.3"/>
<rect x="183.60" y="109.30" width="4.0" height="4.0" fill="none" stroke="#8e1d3b" stroke-width="1.3"/>
<rect x="187.90" y="109.30" width="4.0" height="4.0" fill="none" stroke="#8e1d3b" stroke-width="1.3"/>
<rect x="173.50" y="110.70" width="4.0" height="4.0" fill="none" stroke="#8e1d3b" stroke-width="1.3"/>
<rect x="175.20" y="111.40" width="4.0" height="4.0" fill="none" stroke="#8e1d3b" stroke-width="1.3"/>
<rect x="170.30" y="116.30" width="4.0" height="4.0" fill="none" stroke="#8e1d3b" stroke-width="1.3"/>
<rect x="177.00" y="116.80" width="4.0" height="4.0" fill="none" stroke="#8e1d3b" stroke-width="1.3"/>
<rect x="174.20" y="118.00" width="4.0" height="4.0" fill="none" stroke="#8e1d3b" stroke-width="1.3"/>
<rect x="179.40" y="118.60" width="4.0" height="4.0" fill="none" stroke="#8e1d3b" stroke-width="1.3"/>
<rect x="144.60" y="118.20" width="4.0" height="4.0" fill="none" stroke="#8e1d3b" stroke-width="1.3"/>
<rect x="188.80" y="119.40" width="4.0" height="4.0" fill="none" stroke="#8e1d3b" stroke-width="1.3"/>
<rect x="169.30" y="120.50" width="4.0" height="4.0" fill="none" stroke="#8e1d3b" stroke-width="1.3"/>
<rect x="176.50" y="119.80" width="4.0" height="4.0" fill="none" stroke="#8e1d3b" stroke-width="1.3"/>
<rect x="181.50" y="120.00" width="4.0" height="4.0" fill="none" stroke="#8e1d3b" stroke-width="1.3"/>
<rect x="130.50" y="119.20" width="4.0" height="4.0" fill="none" stroke="#8e1d3b" stroke-width="1.3"/>
<rect x="134.00" y="119.40" width="4.0" height="4.0" fill="none" stroke="#8e1d3b" stroke-width="1.3"/>
<rect x="58.00" y="120.50" width="4.0" height="4.0" fill="none" stroke="#8e1d3b" stroke-width="1.3"/>
<rect x="99.50" y="120.50" width="4.0" height="4.0" fill="none" stroke="#8e1d3b" stroke-width="1.3"/>
<rect x="102.50" y="120.50" width="4.0" height="4.0" fill="none" stroke="#8e1d3b" stroke-width="1.3"/>
<rect x="105.50" y="120.50" width="4.0" height="4.0" fill="none" stroke="#8e1d3b" stroke-width="1.3"/>
<rect x="108.50" y="120.50" width="4.0" height="4.0" fill="none" stroke="#8e1d3b" stroke-width="1.3"/>
<rect x="111.00" y="120.50" width="4.0" height="4.0" fill="none" stroke="#8e1d3b" stroke-width="1.3"/>
<rect x="114.00" y="120.50" width="4.0" height="4.0" fill="none" stroke="#8e1d3b" stroke-width="1.3"/>
<rect x="116.50" y="120.50" width="4.0" height="4.0" fill="none" stroke="#8e1d3b" stroke-width="1.3"/>
<rect x="119.00" y="120.50" width="4.0" height="4.0" fill="none" stroke="#8e1d3b" stroke-width="1.3"/>
<rect x="121.50" y="120.50" width="4.0" height="4.0" fill="none" stroke="#8e1d3b" stroke-width="1.3"/>
<rect x="124.00" y="120.50" width="4.0" height="4.0" fill="none" stroke="#8e1d3b" stroke-width="1.3"/>
<rect x="126.50" y="120.50" width="4.0" height="4.0" fill="none" stroke="#8e1d3b" stroke-width="1.3"/>
<rect x="129.00" y="120.50" width="4.0" height="4.0" fill="none" stroke="#8e1d3b" stroke-width="1.3"/>
<rect x="132.00" y="120.50" width="4.0" height="4.0" fill="none" stroke="#8e1d3b" stroke-width="1.3"/>
<rect x="135.50" y="120.50" width="4.0" height="4.0" fill="none" stroke="#8e1d3b" stroke-width="1.3"/>
<rect x="138.50" y="120.50" width="4.0" height="4.0" fill="none" stroke="#8e1d3b" stroke-width="1.3"/>
<rect x="141.50" y="120.50" width="4.0" height="4.0" fill="none" stroke="#8e1d3b" stroke-width="1.3"/>
<text x="255.10" y="16.00" font-size="11.4" text-anchor="start" font-weight="bold" fill="#111" stroke="#111" stroke-width="0.3" stroke-linejoin="round">B</text>
<line x1="306.40" y1="23.20" x2="306.40" y2="123.25" stroke="#1a1a1a" stroke-width="1.5"/>
<line x1="303.00" y1="26.20" x2="306.40" y2="26.20" stroke="#1a1a1a" stroke-width="1.3"/>
<text x="299.90" y="29.00" font-size="8.8" text-anchor="end" textLength="21.80" lengthAdjust="spacingAndGlyphs" fill="#3c3c3c" stroke="#3c3c3c" stroke-width="0.15">50000</text>
<line x1="303.00" y1="45.46" x2="306.40" y2="45.46" stroke="#1a1a1a" stroke-width="1.3"/>
<text x="299.90" y="48.00" font-size="8.8" text-anchor="end" textLength="21.80" lengthAdjust="spacingAndGlyphs" fill="#3c3c3c" stroke="#3c3c3c" stroke-width="0.15">40000</text>
<line x1="303.00" y1="64.72" x2="306.40" y2="64.72" stroke="#1a1a1a" stroke-width="1.3"/>
<text x="299.90" y="67.00" font-size="8.8" text-anchor="end" textLength="21.80" lengthAdjust="spacingAndGlyphs" fill="#3c3c3c" stroke="#3c3c3c" stroke-width="0.15">30000</text>
<line x1="303.00" y1="83.98" x2="306.40" y2="83.98" stroke="#1a1a1a" stroke-width="1.3"/>
<text x="299.90" y="87.00" font-size="8.8" text-anchor="end" textLength="21.80" lengthAdjust="spacingAndGlyphs" fill="#3c3c3c" stroke="#3c3c3c" stroke-width="0.15">20000</text>
<line x1="303.00" y1="103.24" x2="306.40" y2="103.24" stroke="#1a1a1a" stroke-width="1.3"/>
<text x="299.90" y="106.00" font-size="8.8" text-anchor="end" textLength="21.80" lengthAdjust="spacingAndGlyphs" fill="#3c3c3c" stroke="#3c3c3c" stroke-width="0.15">10000</text>
<line x1="303.00" y1="122.50" x2="306.40" y2="122.50" stroke="#1a1a1a" stroke-width="1.3"/>
<text x="299.90" y="125.00" font-size="8.8" text-anchor="end" textLength="4.30" lengthAdjust="spacingAndGlyphs" fill="#3c3c3c" stroke="#3c3c3c" stroke-width="0.15">0</text>
<text x="269.30" y="73.00" font-size="9.4" text-anchor="middle" textLength="40.80" lengthAdjust="spacingAndGlyphs" transform="rotate(-90 269.30 73.00)" fill="#3c3c3c" stroke="#3c3c3c" stroke-width="0.15">IgG (ng/mL)</text>
<line x1="305.70" y1="122.60" x2="453.00" y2="122.60" stroke="#1a1a1a" stroke-width="1.5"/>
<line x1="306.40" y1="122.50" x2="306.40" y2="125.30" stroke="#1a1a1a" stroke-width="1.2"/>
<line x1="317.33" y1="122.50" x2="317.33" y2="124.40" stroke="#1a1a1a" stroke-width="0.8"/>
<line x1="323.72" y1="122.50" x2="323.72" y2="124.40" stroke="#1a1a1a" stroke-width="0.8"/>
<line x1="328.25" y1="122.50" x2="328.25" y2="124.40" stroke="#1a1a1a" stroke-width="0.8"/>
<line x1="331.77" y1="122.50" x2="331.77" y2="124.40" stroke="#1a1a1a" stroke-width="0.8"/>
<line x1="334.65" y1="122.50" x2="334.65" y2="124.40" stroke="#1a1a1a" stroke-width="0.8"/>
<line x1="337.08" y1="122.50" x2="337.08" y2="124.40" stroke="#1a1a1a" stroke-width="0.8"/>
<line x1="339.18" y1="122.50" x2="339.18" y2="124.40" stroke="#1a1a1a" stroke-width="0.8"/>
<line x1="341.04" y1="122.50" x2="341.04" y2="124.40" stroke="#1a1a1a" stroke-width="0.8"/>
<line x1="342.70" y1="122.50" x2="342.70" y2="125.30" stroke="#1a1a1a" stroke-width="1.2"/>
<line x1="353.63" y1="122.50" x2="353.63" y2="124.40" stroke="#1a1a1a" stroke-width="0.8"/>
<line x1="360.02" y1="122.50" x2="360.02" y2="124.40" stroke="#1a1a1a" stroke-width="0.8"/>
<line x1="364.55" y1="122.50" x2="364.55" y2="124.40" stroke="#1a1a1a" stroke-width="0.8"/>
<line x1="368.07" y1="122.50" x2="368.07" y2="124.40" stroke="#1a1a1a" stroke-width="0.8"/>
<line x1="370.95" y1="122.50" x2="370.95" y2="124.40" stroke="#1a1a1a" stroke-width="0.8"/>
<line x1="373.38" y1="122.50" x2="373.38" y2="124.40" stroke="#1a1a1a" stroke-width="0.8"/>
<line x1="375.48" y1="122.50" x2="375.48" y2="124.40" stroke="#1a1a1a" stroke-width="0.8"/>
<line x1="377.34" y1="122.50" x2="377.34" y2="124.40" stroke="#1a1a1a" stroke-width="0.8"/>
<line x1="379.00" y1="122.50" x2="379.00" y2="125.30" stroke="#1a1a1a" stroke-width="1.2"/>
<line x1="389.93" y1="122.50" x2="389.93" y2="124.40" stroke="#1a1a1a" stroke-width="0.8"/>
<line x1="396.32" y1="122.50" x2="396.32" y2="124.40" stroke="#1a1a1a" stroke-width="0.8"/>
<line x1="400.85" y1="122.50" x2="400.85" y2="124.40" stroke="#1a1a1a" stroke-width="0.8"/>
<line x1="404.37" y1="122.50" x2="404.37" y2="124.40" stroke="#1a1a1a" stroke-width="0.8"/>
<line x1="407.25" y1="122.50" x2="407.25" y2="124.40" stroke="#1a1a1a" stroke-width="0.8"/>
<line x1="409.68" y1="122.50" x2="409.68" y2="124.40" stroke="#1a1a1a" stroke-width="0.8"/>
<line x1="411.78" y1="122.50" x2="411.78" y2="124.40" stroke="#1a1a1a" stroke-width="0.8"/>
<line x1="413.64" y1="122.50" x2="413.64" y2="124.40" stroke="#1a1a1a" stroke-width="0.8"/>
<line x1="415.30" y1="122.50" x2="415.30" y2="125.30" stroke="#1a1a1a" stroke-width="1.2"/>
<line x1="426.23" y1="122.50" x2="426.23" y2="124.40" stroke="#1a1a1a" stroke-width="0.8"/>
<line x1="432.62" y1="122.50" x2="432.62" y2="124.40" stroke="#1a1a1a" stroke-width="0.8"/>
<line x1="437.15" y1="122.50" x2="437.15" y2="124.40" stroke="#1a1a1a" stroke-width="0.8"/>
<line x1="440.67" y1="122.50" x2="440.67" y2="124.40" stroke="#1a1a1a" stroke-width="0.8"/>
<line x1="443.55" y1="122.50" x2="443.55" y2="124.40" stroke="#1a1a1a" stroke-width="0.8"/>
<line x1="445.98" y1="122.50" x2="445.98" y2="124.40" stroke="#1a1a1a" stroke-width="0.8"/>
<line x1="448.08" y1="122.50" x2="448.08" y2="124.40" stroke="#1a1a1a" stroke-width="0.8"/>
<line x1="449.94" y1="122.50" x2="449.94" y2="124.40" stroke="#1a1a1a" stroke-width="0.8"/>
<line x1="451.60" y1="122.50" x2="451.60" y2="125.30" stroke="#1a1a1a" stroke-width="1.2"/>
<text x="306.40" y="136.00" font-size="8.8" text-anchor="middle" textLength="15.00" lengthAdjust="spacingAndGlyphs" fill="#3c3c3c" stroke="#3c3c3c" stroke-width="0.15">0.01</text>
<text x="342.70" y="136.00" font-size="8.8" text-anchor="middle" textLength="10.60" lengthAdjust="spacingAndGlyphs" fill="#3c3c3c" stroke="#3c3c3c" stroke-width="0.15">0.1</text>
<text x="379.00" y="136.00" font-size="8.8" text-anchor="middle" textLength="4.00" lengthAdjust="spacingAndGlyphs" fill="#3c3c3c" stroke="#3c3c3c" stroke-width="0.15">1</text>
<text x="415.30" y="136.00" font-size="8.8" text-anchor="middle" textLength="8.40" lengthAdjust="spacingAndGlyphs" fill="#3c3c3c" stroke="#3c3c3c" stroke-width="0.15">10</text>
<text x="451.60" y="136.00" font-size="8.8" text-anchor="middle" textLength="12.80" lengthAdjust="spacingAndGlyphs" fill="#3c3c3c" stroke="#3c3c3c" stroke-width="0.15">100</text>
<text x="379.50" y="147.00" font-size="9.6" text-anchor="middle" textLength="48.50" lengthAdjust="spacingAndGlyphs" fill="#3c3c3c" stroke="#3c3c3c" stroke-width="0.15">% plasmablast</text>
<rect x="316.50" y="30.50" width="4.0" height="4.0" fill="none" stroke="#8e1d3b" stroke-width="1.15"/>
<text x="323.50" y="35.00" font-size="8.5" text-anchor="start" textLength="42.30" lengthAdjust="spacingAndGlyphs" fill="#3c3c3c" stroke="#3c3c3c" stroke-width="0.15">IgG patients</text>
<rect x="316.40" y="41.30" width="4.20" height="4.20" fill="#2e4173" stroke="#1f2c54" stroke-width="0.8"/>
<text x="323.50" y="46.00" font-size="8.5" text-anchor="start" textLength="42.10" lengthAdjust="spacingAndGlyphs" fill="#3c3c3c" stroke="#3c3c3c" stroke-width="0.15">IgG controls</text>
<rect x="434.20" y="31.50" width="4.20" height="4.20" fill="#2e4173" stroke="#1f2c54" stroke-width="0.8"/>
<rect x="418.60" y="52.00" width="4.20" height="4.20" fill="#2e4173" stroke="#1f2c54" stroke-width="0.8"/>
<rect x="438.80" y="59.30" width="4.20" height="4.20" fill="#2e4173" stroke="#1f2c54" stroke-width="0.8"/>
<rect x="433.20" y="63.70" width="4.20" height="4.20" fill="#2e4173" stroke="#1f2c54" stroke-width="0.8"/>
<rect x="413.70" y="80.70" width="4.20" height="4.20" fill="#2e4173" stroke="#1f2c54" stroke-width="0.8"/>
<rect x="408.50" y="85.10" width="4.20" height="4.20" fill="#2e4173" stroke="#1f2c54" stroke-width="0.8"/>
<rect x="424.00" y="87.90" width="4.20" height="4.20" fill="#2e4173" stroke="#1f2c54" stroke-width="0.8"/>
<rect x="421.70" y="89.10" width="4.20" height="4.20" fill="#2e4173" stroke="#1f2c54" stroke-width="0.8"/>
<rect x="438.10" y="97.80" width="4.20" height="4.20" fill="#2e4173" stroke="#1f2c54" stroke-width="0.8"/>
<rect x="427.60" y="98.50" width="4.20" height="4.20" fill="#2e4173" stroke="#1f2c54" stroke-width="0.8"/>
<rect x="416.50" y="99.70" width="4.20" height="4.20" fill="#2e4173" stroke="#1f2c54" stroke-width="0.8"/>
<rect x="437.20" y="100.20" width="4.20" height="4.20" fill="#2e4173" stroke="#1f2c54" stroke-width="0.8"/>
<rect x="420.70" y="101.60" width="4.20" height="4.20" fill="#2e4173" stroke="#1f2c54" stroke-width="0.8"/>
<rect x="423.50" y="101.60" width="4.20" height="4.20" fill="#2e4173" stroke="#1f2c54" stroke-width="0.8"/>
<rect x="429.40" y="110.80" width="4.20" height="4.20" fill="#2e4173" stroke="#1f2c54" stroke-width="0.8"/>
<rect x="348.25" y="70.00" width="4.0" height="4.0" fill="none" stroke="#8e1d3b" stroke-width="1.3"/>
<rect x="430.20" y="57.70" width="4.0" height="4.0" fill="none" stroke="#8e1d3b" stroke-width="1.3"/>
<rect x="422.90" y="61.20" width="4.0" height="4.0" fill="none" stroke="#8e1d3b" stroke-width="1.3"/>
<rect x="435.40" y="64.50" width="4.0" height="4.0" fill="none" stroke="#8e1d3b" stroke-width="1.3"/>
<rect x="428.80" y="67.60" width="4.0" height="4.0" fill="none" stroke="#8e1d3b" stroke-width="1.3"/>
<rect x="420.40" y="70.60" width="4.0" height="4.0" fill="none" stroke="#8e1d3b" stroke-width="1.3"/>
<rect x="430.70" y="74.40" width="4.0" height="4.0" fill="none" stroke="#8e1d3b" stroke-width="1.3"/>
<rect x="388.30" y="85.30" width="4.0" height="4.0" fill="none" stroke="#8e1d3b" stroke-width="1.3"/>
<rect x="433.00" y="89.50" width="4.0" height="4.0" fill="none" stroke="#8e1d3b" stroke-width="1.3"/>
<rect x="418.30" y="89.70" width="4.0" height="4.0" fill="none" stroke="#8e1d3b" stroke-width="1.3"/>
<rect x="419.40" y="91.30" width="4.0" height="4.0" fill="none" stroke="#8e1d3b" stroke-width="1.3"/>
<rect x="424.30" y="92.30" width="4.0" height="4.0" fill="none" stroke="#8e1d3b" stroke-width="1.3"/>
<rect x="409.80" y="93.20" width="4.0" height="4.0" fill="none" stroke="#8e1d3b" stroke-width="1.3"/>
<rect x="431.20" y="93.90" width="4.0" height="4.0" fill="none" stroke="#8e1d3b" stroke-width="1.3"/>
<rect x="389.80" y="107.10" width="4.0" height="4.0" fill="none" stroke="#8e1d3b" stroke-width="1.3"/>
<rect x="434.00" y="107.10" width="4.0" height="4.0" fill="none" stroke="#8e1d3b" stroke-width="1.3"/>
<rect x="421.10" y="108.70" width="4.0" height="4.0" fill="none" stroke="#8e1d3b" stroke-width="1.3"/>
<rect x="407.20" y="109.90" width="4.0" height="4.0" fill="none" stroke="#8e1d3b" stroke-width="1.3"/>
<rect x="421.50" y="110.60" width="4.0" height="4.0" fill="none" stroke="#8e1d3b" stroke-width="1.3"/>
<rect x="424.60" y="112.50" width="4.0" height="4.0" fill="none" stroke="#8e1d3b" stroke-width="1.3"/>
<rect x="419.70" y="114.00" width="4.0" height="4.0" fill="none" stroke="#8e1d3b" stroke-width="1.3"/>
<rect x="422.20" y="113.90" width="4.0" height="4.0" fill="none" stroke="#8e1d3b" stroke-width="1.3"/>
<rect x="389.80" y="117.30" width="4.0" height="4.0" fill="none" stroke="#8e1d3b" stroke-width="1.3"/>
<rect x="415.60" y="120.30" width="4.0" height="4.0" fill="none" stroke="#8e1d3b" stroke-width="1.3"/>
<rect x="413.70" y="120.80" width="4.0" height="4.0" fill="none" stroke="#8e1d3b" stroke-width="1.3"/>
<rect x="376.50" y="119.20" width="4.0" height="4.0" fill="none" stroke="#8e1d3b" stroke-width="1.3"/>
<rect x="379.50" y="119.40" width="4.0" height="4.0" fill="none" stroke="#8e1d3b" stroke-width="1.3"/>
<rect x="304.00" y="120.50" width="4.0" height="4.0" fill="none" stroke="#8e1d3b" stroke-width="1.3"/>
<rect x="345.50" y="120.50" width="4.0" height="4.0" fill="none" stroke="#8e1d3b" stroke-width="1.3"/>
<rect x="350.00" y="120.50" width="4.0" height="4.0" fill="none" stroke="#8e1d3b" stroke-width="1.3"/>
<rect x="353.00" y="120.50" width="4.0" height="4.0" fill="none" stroke="#8e1d3b" stroke-width="1.3"/>
<rect x="356.00" y="120.50" width="4.0" height="4.0" fill="none" stroke="#8e1d3b" stroke-width="1.3"/>
<rect x="359.00" y="120.50" width="4.0" height="4.0" fill="none" stroke="#8e1d3b" stroke-width="1.3"/>
<rect x="362.00" y="120.50" width="4.0" height="4.0" fill="none" stroke="#8e1d3b" stroke-width="1.3"/>
<rect x="365.00" y="120.50" width="4.0" height="4.0" fill="none" stroke="#8e1d3b" stroke-width="1.3"/>
<rect x="368.00" y="120.50" width="4.0" height="4.0" fill="none" stroke="#8e1d3b" stroke-width="1.3"/>
<rect x="371.00" y="120.50" width="4.0" height="4.0" fill="none" stroke="#8e1d3b" stroke-width="1.3"/>
<rect x="374.00" y="120.50" width="4.0" height="4.0" fill="none" stroke="#8e1d3b" stroke-width="1.3"/>
<rect x="377.50" y="120.50" width="4.0" height="4.0" fill="none" stroke="#8e1d3b" stroke-width="1.3"/>
<rect x="381.00" y="120.50" width="4.0" height="4.0" fill="none" stroke="#8e1d3b" stroke-width="1.3"/>
<rect x="384.00" y="120.50" width="4.0" height="4.0" fill="none" stroke="#8e1d3b" stroke-width="1.3"/>
<rect x="386.50" y="120.50" width="4.0" height="4.0" fill="none" stroke="#8e1d3b" stroke-width="1.3"/>
<text x="8.10" y="175.00" font-size="11.4" text-anchor="start" font-weight="bold" fill="#111" stroke="#111" stroke-width="0.3" stroke-linejoin="round">C</text>
<line x1="61.00" y1="286.20" x2="250.80" y2="286.20" stroke="#5e5e5e" stroke-width="1.25" stroke-dasharray="1.8 0.7"/>
<line x1="60.15" y1="192.40" x2="60.15" y2="291.05" stroke="#1a1a1a" stroke-width="1.5"/>
<line x1="56.75" y1="195.25" x2="60.15" y2="195.25" stroke="#1a1a1a" stroke-width="1.3"/>
<text x="53.65" y="198.00" font-size="8.8" text-anchor="end" textLength="21.80" lengthAdjust="spacingAndGlyphs" fill="#3c3c3c" stroke="#3c3c3c" stroke-width="0.15">50000</text>
<line x1="56.75" y1="213.38" x2="60.15" y2="213.38" stroke="#1a1a1a" stroke-width="1.3"/>
<text x="53.65" y="216.00" font-size="8.8" text-anchor="end" textLength="21.80" lengthAdjust="spacingAndGlyphs" fill="#3c3c3c" stroke="#3c3c3c" stroke-width="0.15">40000</text>
<line x1="56.75" y1="231.51" x2="60.15" y2="231.51" stroke="#1a1a1a" stroke-width="1.3"/>
<text x="53.65" y="234.00" font-size="8.8" text-anchor="end" textLength="21.80" lengthAdjust="spacingAndGlyphs" fill="#3c3c3c" stroke="#3c3c3c" stroke-width="0.15">30000</text>
<line x1="56.75" y1="249.64" x2="60.15" y2="249.64" stroke="#1a1a1a" stroke-width="1.3"/>
<text x="53.65" y="252.00" font-size="8.8" text-anchor="end" textLength="21.80" lengthAdjust="spacingAndGlyphs" fill="#3c3c3c" stroke="#3c3c3c" stroke-width="0.15">20000</text>
<line x1="56.75" y1="267.77" x2="60.15" y2="267.77" stroke="#1a1a1a" stroke-width="1.3"/>
<text x="53.65" y="270.00" font-size="8.8" text-anchor="end" textLength="21.80" lengthAdjust="spacingAndGlyphs" fill="#3c3c3c" stroke="#3c3c3c" stroke-width="0.15">10000</text>
<line x1="56.75" y1="285.90" x2="60.15" y2="285.90" stroke="#1a1a1a" stroke-width="1.3"/>
<text x="53.65" y="289.00" font-size="8.8" text-anchor="end" textLength="4.30" lengthAdjust="spacingAndGlyphs" fill="#3c3c3c" stroke="#3c3c3c" stroke-width="0.15">0</text>
<text x="24.40" y="240.00" font-size="9.4" text-anchor="middle" textLength="42.60" lengthAdjust="spacingAndGlyphs" transform="rotate(-90 24.40 240.00)" fill="#3c3c3c" stroke="#3c3c3c" stroke-width="0.15">IgM (ng/mL)</text>
<line x1="59.40" y1="290.30" x2="250.80" y2="290.30" stroke="#1a1a1a" stroke-width="1.5"/>
<line x1="98.20" y1="290.40" x2="98.20" y2="293.30" stroke="#1a1a1a" stroke-width="1.3"/>
<text x="98.00" y="303.00" font-size="9.2" text-anchor="middle" textLength="31.50" lengthAdjust="spacingAndGlyphs" fill="#3c3c3c" stroke="#3c3c3c" stroke-width="0.15">Controls</text>
<line x1="155.20" y1="290.40" x2="155.20" y2="293.30" stroke="#1a1a1a" stroke-width="1.3"/>
<text x="155.00" y="303.00" font-size="9.2" text-anchor="middle" textLength="29.50" lengthAdjust="spacingAndGlyphs" fill="#3c3c3c" stroke="#3c3c3c" stroke-width="0.15">None/IS</text>
<line x1="212.30" y1="290.40" x2="212.30" y2="293.30" stroke="#1a1a1a" stroke-width="1.3"/>
<text x="212.10" y="303.00" font-size="9.2" text-anchor="middle" textLength="34.50" lengthAdjust="spacingAndGlyphs" fill="#3c3c3c" stroke="#3c3c3c" stroke-width="0.15">RIC/MAC</text>
<path d="M97.50 187.80V186.50H209.30V187.80" fill="none" stroke="#000" stroke-width="1.3"/>
<text x="153.30" y="187.00" font-size="8.5" text-anchor="middle" font-weight="bold" fill="#333">*</text>
<path d="M97.50 202.50V201.20H151.50V202.50" fill="none" stroke="#000" stroke-width="1.3"/>
<text x="124.50" y="202.00" font-size="8.5" text-anchor="middle" font-weight="bold" fill="#333">****</text>
<path d="M156.80 202.50V201.20H209.30V202.50" fill="none" stroke="#000" stroke-width="1.3"/>
<text x="183.00" y="202.00" font-size="8.5" text-anchor="middle" font-weight="bold" fill="#333">**</text>
<line x1="163.00" y1="310.10" x2="212.00" y2="310.10" stroke="#111" stroke-width="1.4"/>
<line x1="163.00" y1="308.10" x2="163.00" y2="312.10" stroke="#111" stroke-width="1.3"/>
<line x1="212.00" y1="308.10" x2="212.00" y2="312.10" stroke="#111" stroke-width="1.3"/>
<text x="187.50" y="322.00" font-size="9.2" text-anchor="middle" textLength="47.50" lengthAdjust="spacingAndGlyphs" fill="#3c3c3c" stroke="#3c3c3c" stroke-width="0.15">Conditioning</text>
<text x="187.50" y="332.00" font-size="9.2" text-anchor="middle" textLength="26.00" lengthAdjust="spacingAndGlyphs" fill="#3c3c3c" stroke="#3c3c3c" stroke-width="0.15">regime</text>
<text x="254.10" y="175.00" font-size="11.4" text-anchor="start" font-weight="bold" fill="#111" stroke="#111" stroke-width="0.3" stroke-linejoin="round">D</text>
<line x1="307.30" y1="283.10" x2="506.50" y2="283.10" stroke="#5e5e5e" stroke-width="1.25" stroke-dasharray="1.8 0.7"/>
<line x1="306.45" y1="187.40" x2="306.45" y2="291.05" stroke="#1a1a1a" stroke-width="1.5"/>
<line x1="303.05" y1="190.25" x2="306.45" y2="190.25" stroke="#1a1a1a" stroke-width="1.3"/>
<text x="299.95" y="193.00" font-size="8.8" text-anchor="end" textLength="21.80" lengthAdjust="spacingAndGlyphs" fill="#3c3c3c" stroke="#3c3c3c" stroke-width="0.15">50000</text>
<line x1="303.05" y1="208.76" x2="306.45" y2="208.76" stroke="#1a1a1a" stroke-width="1.3"/>
<text x="299.95" y="211.00" font-size="8.8" text-anchor="end" textLength="21.80" lengthAdjust="spacingAndGlyphs" fill="#3c3c3c" stroke="#3c3c3c" stroke-width="0.15">40000</text>
<line x1="303.05" y1="227.27" x2="306.45" y2="227.27" stroke="#1a1a1a" stroke-width="1.3"/>
<text x="299.95" y="230.00" font-size="8.8" text-anchor="end" textLength="21.80" lengthAdjust="spacingAndGlyphs" fill="#3c3c3c" stroke="#3c3c3c" stroke-width="0.15">30000</text>
<line x1="303.05" y1="245.78" x2="306.45" y2="245.78" stroke="#1a1a1a" stroke-width="1.3"/>
<text x="299.95" y="248.00" font-size="8.8" text-anchor="end" textLength="21.80" lengthAdjust="spacingAndGlyphs" fill="#3c3c3c" stroke="#3c3c3c" stroke-width="0.15">20000</text>
<line x1="303.05" y1="264.29" x2="306.45" y2="264.29" stroke="#1a1a1a" stroke-width="1.3"/>
<text x="299.95" y="267.00" font-size="8.8" text-anchor="end" textLength="21.80" lengthAdjust="spacingAndGlyphs" fill="#3c3c3c" stroke="#3c3c3c" stroke-width="0.15">10000</text>
<line x1="303.05" y1="282.80" x2="306.45" y2="282.80" stroke="#1a1a1a" stroke-width="1.3"/>
<text x="299.95" y="286.00" font-size="8.8" text-anchor="end" textLength="4.30" lengthAdjust="spacingAndGlyphs" fill="#3c3c3c" stroke="#3c3c3c" stroke-width="0.15">0</text>
<text x="269.30" y="238.50" font-size="9.4" text-anchor="middle" textLength="40.80" lengthAdjust="spacingAndGlyphs" transform="rotate(-90 269.30 238.50)" fill="#3c3c3c" stroke="#3c3c3c" stroke-width="0.15">IgG (ng/mL)</text>
<line x1="305.70" y1="290.30" x2="506.50" y2="290.30" stroke="#1a1a1a" stroke-width="1.5"/>
<line x1="346.70" y1="290.40" x2="346.70" y2="293.30" stroke="#1a1a1a" stroke-width="1.3"/>
<text x="346.50" y="303.00" font-size="9.2" text-anchor="middle" textLength="31.50" lengthAdjust="spacingAndGlyphs" fill="#3c3c3c" stroke="#3c3c3c" stroke-width="0.15">Controls</text>
<line x1="406.50" y1="290.40" x2="406.50" y2="293.30" stroke="#1a1a1a" stroke-width="1.3"/>
<text x="406.30" y="303.00" font-size="9.2" text-anchor="middle" textLength="29.50" lengthAdjust="spacingAndGlyphs" fill="#3c3c3c" stroke="#3c3c3c" stroke-width="0.15">None/IS</text>
<line x1="466.50" y1="290.40" x2="466.50" y2="293.30" stroke="#1a1a1a" stroke-width="1.3"/>
<text x="466.30" y="303.00" font-size="9.2" text-anchor="middle" textLength="34.50" lengthAdjust="spacingAndGlyphs" fill="#3c3c3c" stroke="#3c3c3c" stroke-width="0.15">RIC/MAC</text>
<path d="M346.50 180.60V179.30H403.80V180.60" fill="none" stroke="#000" stroke-width="1.3"/>
<text x="375.00" y="180.00" font-size="8.5" text-anchor="middle" font-weight="bold" fill="#333">***</text>
<path d="M406.30 191.30V190.00H466.30V191.30" fill="none" stroke="#000" stroke-width="1.3"/>
<text x="436.00" y="191.00" font-size="8.5" text-anchor="middle" font-weight="bold" fill="#333">**</text>
<line x1="410.00" y1="310.10" x2="459.00" y2="310.10" stroke="#111" stroke-width="1.4"/>
<line x1="410.00" y1="308.10" x2="410.00" y2="312.10" stroke="#111" stroke-width="1.3"/>
<line x1="459.00" y1="308.10" x2="459.00" y2="312.10" stroke="#111" stroke-width="1.3"/>
<text x="434.50" y="322.00" font-size="9.2" text-anchor="middle" textLength="47.50" lengthAdjust="spacingAndGlyphs" fill="#3c3c3c" stroke="#3c3c3c" stroke-width="0.15">Conditioning</text>
<text x="434.50" y="332.00" font-size="9.2" text-anchor="middle" textLength="26.00" lengthAdjust="spacingAndGlyphs" fill="#3c3c3c" stroke="#3c3c3c" stroke-width="0.15">regime</text>
<text x="9.10" y="359.00" font-size="11.4" text-anchor="start" font-weight="bold" fill="#111" stroke="#111" stroke-width="0.3" stroke-linejoin="round">E</text>
<line x1="61.00" y1="466.10" x2="255.60" y2="466.10" stroke="#5e5e5e" stroke-width="1.25" stroke-dasharray="1.8 0.7"/>
<line x1="60.15" y1="367.70" x2="60.15" y2="471.35" stroke="#1a1a1a" stroke-width="1.5"/>
<line x1="56.75" y1="370.50" x2="60.15" y2="370.50" stroke="#1a1a1a" stroke-width="1.3"/>
<text x="53.65" y="373.00" font-size="8.8" text-anchor="end" textLength="21.80" lengthAdjust="spacingAndGlyphs" fill="#3c3c3c" stroke="#3c3c3c" stroke-width="0.15">50000</text>
<line x1="56.75" y1="389.56" x2="60.15" y2="389.56" stroke="#1a1a1a" stroke-width="1.3"/>
<text x="53.65" y="392.00" font-size="8.8" text-anchor="end" textLength="21.80" lengthAdjust="spacingAndGlyphs" fill="#3c3c3c" stroke="#3c3c3c" stroke-width="0.15">40000</text>
<line x1="56.75" y1="408.62" x2="60.15" y2="408.62" stroke="#1a1a1a" stroke-width="1.3"/>
<text x="53.65" y="411.00" font-size="8.8" text-anchor="end" textLength="21.80" lengthAdjust="spacingAndGlyphs" fill="#3c3c3c" stroke="#3c3c3c" stroke-width="0.15">30000</text>
<line x1="56.75" y1="427.68" x2="60.15" y2="427.68" stroke="#1a1a1a" stroke-width="1.3"/>
<text x="53.65" y="430.00" font-size="8.8" text-anchor="end" textLength="21.80" lengthAdjust="spacingAndGlyphs" fill="#3c3c3c" stroke="#3c3c3c" stroke-width="0.15">20000</text>
<line x1="56.75" y1="446.74" x2="60.15" y2="446.74" stroke="#1a1a1a" stroke-width="1.3"/>
<text x="53.65" y="449.00" font-size="8.8" text-anchor="end" textLength="21.80" lengthAdjust="spacingAndGlyphs" fill="#3c3c3c" stroke="#3c3c3c" stroke-width="0.15">10000</text>
<line x1="56.75" y1="465.80" x2="60.15" y2="465.80" stroke="#1a1a1a" stroke-width="1.3"/>
<text x="53.65" y="468.00" font-size="8.8" text-anchor="end" textLength="4.30" lengthAdjust="spacingAndGlyphs" fill="#3c3c3c" stroke="#3c3c3c" stroke-width="0.15">0</text>
<text x="24.40" y="420.00" font-size="9.4" text-anchor="middle" textLength="42.60" lengthAdjust="spacingAndGlyphs" transform="rotate(-90 24.40 420.00)" fill="#3c3c3c" stroke="#3c3c3c" stroke-width="0.15">IgM (ng/mL)</text>
<line x1="59.40" y1="470.60" x2="255.60" y2="470.60" stroke="#1a1a1a" stroke-width="1.5"/>
<line x1="91.00" y1="470.70" x2="91.00" y2="473.60" stroke="#1a1a1a" stroke-width="1.3"/>
<text x="90.80" y="484.00" font-size="9.2" text-anchor="middle" textLength="31.50" lengthAdjust="spacingAndGlyphs" fill="#3c3c3c" stroke="#3c3c3c" stroke-width="0.15">Controls</text>
<line x1="136.80" y1="470.70" x2="136.80" y2="473.60" stroke="#1a1a1a" stroke-width="1.3"/>
<text x="136.60" y="484.00" font-size="9.2" text-anchor="middle" textLength="23.00" lengthAdjust="spacingAndGlyphs" fill="#3c3c3c" stroke="#3c3c3c" stroke-width="0.15">0-10%</text>
<line x1="183.20" y1="470.70" x2="183.20" y2="473.60" stroke="#1a1a1a" stroke-width="1.3"/>
<text x="183.00" y="484.00" font-size="9.2" text-anchor="middle" textLength="26.50" lengthAdjust="spacingAndGlyphs" fill="#3c3c3c" stroke="#3c3c3c" stroke-width="0.15">10-90%</text>
<line x1="229.20" y1="470.70" x2="229.20" y2="473.60" stroke="#1a1a1a" stroke-width="1.3"/>
<text x="229.00" y="484.00" font-size="9.2" text-anchor="middle" textLength="31.50" lengthAdjust="spacingAndGlyphs" fill="#3c3c3c" stroke="#3c3c3c" stroke-width="0.15">90-100%</text>
<path d="M91.50 371.30V370.00H135.50V371.30" fill="none" stroke="#000" stroke-width="1.3"/>
<text x="113.30" y="371.00" font-size="8.5" text-anchor="middle" font-weight="bold" fill="#333">****</text>
<path d="M142.50 371.30V370.00H228.30V371.30" fill="none" stroke="#000" stroke-width="1.3"/>
<text x="185.30" y="371.00" font-size="8.5" text-anchor="middle" font-weight="bold" fill="#333">***</text>
<line x1="148.00" y1="490.10" x2="221.00" y2="490.10" stroke="#111" stroke-width="1.4"/>
<line x1="148.00" y1="488.10" x2="148.00" y2="492.10" stroke="#111" stroke-width="1.3"/>
<line x1="221.00" y1="488.10" x2="221.00" y2="492.10" stroke="#111" stroke-width="1.3"/>
<text x="184.50" y="502.00" font-size="9.2" text-anchor="middle" textLength="58.50" lengthAdjust="spacingAndGlyphs" fill="#3c3c3c" stroke="#3c3c3c" stroke-width="0.15">B cell chimerism</text>
<text x="255.50" y="359.00" font-size="11.4" text-anchor="start" font-weight="bold" fill="#111" stroke="#111" stroke-width="0.3" stroke-linejoin="round">F</text>
<line x1="307.30" y1="462.80" x2="511.80" y2="462.80" stroke="#5e5e5e" stroke-width="1.25" stroke-dasharray="1.8 0.7"/>
<line x1="306.45" y1="364.70" x2="306.45" y2="471.35" stroke="#1a1a1a" stroke-width="1.5"/>
<line x1="303.05" y1="367.50" x2="306.45" y2="367.50" stroke="#1a1a1a" stroke-width="1.3"/>
<text x="299.95" y="370.00" font-size="8.8" text-anchor="end" textLength="21.80" lengthAdjust="spacingAndGlyphs" fill="#3c3c3c" stroke="#3c3c3c" stroke-width="0.15">50000</text>
<line x1="303.05" y1="386.50" x2="306.45" y2="386.50" stroke="#1a1a1a" stroke-width="1.3"/>
<text x="299.95" y="389.00" font-size="8.8" text-anchor="end" textLength="21.80" lengthAdjust="spacingAndGlyphs" fill="#3c3c3c" stroke="#3c3c3c" stroke-width="0.15">40000</text>
<line x1="303.05" y1="405.50" x2="306.45" y2="405.50" stroke="#1a1a1a" stroke-width="1.3"/>
<text x="299.95" y="408.00" font-size="8.8" text-anchor="end" textLength="21.80" lengthAdjust="spacingAndGlyphs" fill="#3c3c3c" stroke="#3c3c3c" stroke-width="0.15">30000</text>
<line x1="303.05" y1="424.50" x2="306.45" y2="424.50" stroke="#1a1a1a" stroke-width="1.3"/>
<text x="299.95" y="427.00" font-size="8.8" text-anchor="end" textLength="21.80" lengthAdjust="spacingAndGlyphs" fill="#3c3c3c" stroke="#3c3c3c" stroke-width="0.15">20000</text>
<line x1="303.05" y1="443.50" x2="306.45" y2="443.50" stroke="#1a1a1a" stroke-width="1.3"/>
<text x="299.95" y="446.00" font-size="8.8" text-anchor="end" textLength="21.80" lengthAdjust="spacingAndGlyphs" fill="#3c3c3c" stroke="#3c3c3c" stroke-width="0.15">10000</text>
<line x1="303.05" y1="462.50" x2="306.45" y2="462.50" stroke="#1a1a1a" stroke-width="1.3"/>
<text x="299.95" y="465.00" font-size="8.8" text-anchor="end" textLength="4.30" lengthAdjust="spacingAndGlyphs" fill="#3c3c3c" stroke="#3c3c3c" stroke-width="0.15">0</text>
<text x="269.30" y="417.00" font-size="9.4" text-anchor="middle" textLength="40.80" lengthAdjust="spacingAndGlyphs" transform="rotate(-90 269.30 417.00)" fill="#3c3c3c" stroke="#3c3c3c" stroke-width="0.15">IgG (ng/mL)</text>
<line x1="305.70" y1="470.60" x2="511.80" y2="470.60" stroke="#1a1a1a" stroke-width="1.5"/>
<line x1="338.20" y1="470.70" x2="338.20" y2="473.60" stroke="#1a1a1a" stroke-width="1.3"/>
<text x="338.00" y="484.00" font-size="9.2" text-anchor="middle" textLength="31.50" lengthAdjust="spacingAndGlyphs" fill="#3c3c3c" stroke="#3c3c3c" stroke-width="0.15">Controls</text>
<line x1="385.60" y1="470.70" x2="385.60" y2="473.60" stroke="#1a1a1a" stroke-width="1.3"/>
<text x="385.40" y="484.00" font-size="9.2" text-anchor="middle" textLength="23.00" lengthAdjust="spacingAndGlyphs" fill="#3c3c3c" stroke="#3c3c3c" stroke-width="0.15">0-10%</text>
<line x1="433.20" y1="470.70" x2="433.20" y2="473.60" stroke="#1a1a1a" stroke-width="1.3"/>
<text x="433.00" y="484.00" font-size="9.2" text-anchor="middle" textLength="26.50" lengthAdjust="spacingAndGlyphs" fill="#3c3c3c" stroke="#3c3c3c" stroke-width="0.15">10-90%</text>
<line x1="480.70" y1="470.70" x2="480.70" y2="473.60" stroke="#1a1a1a" stroke-width="1.3"/>
<text x="480.50" y="484.00" font-size="9.2" text-anchor="middle" textLength="31.50" lengthAdjust="spacingAndGlyphs" fill="#3c3c3c" stroke="#3c3c3c" stroke-width="0.15">90-100%</text>
<path d="M340.00 359.30V358.00H383.80V359.30" fill="none" stroke="#000" stroke-width="1.3"/>
<text x="361.80" y="359.00" font-size="8.5" text-anchor="middle" font-weight="bold" fill="#333">****</text>
<path d="M388.00 359.30V358.00H479.30V359.30" fill="none" stroke="#000" stroke-width="1.3"/>
<text x="433.80" y="359.00" font-size="8.5" text-anchor="middle" font-weight="bold" fill="#333">****</text>
<line x1="394.00" y1="490.10" x2="467.00" y2="490.10" stroke="#111" stroke-width="1.4"/>
<line x1="394.00" y1="488.10" x2="394.00" y2="492.10" stroke="#111" stroke-width="1.3"/>
<line x1="467.00" y1="488.10" x2="467.00" y2="492.10" stroke="#111" stroke-width="1.3"/>
<text x="430.50" y="502.00" font-size="9.2" text-anchor="middle" textLength="58.50" lengthAdjust="spacingAndGlyphs" fill="#3c3c3c" stroke="#3c3c3c" stroke-width="0.15">B cell chimerism</text>
<text x="7.60" y="529.00" font-size="11.4" text-anchor="start" font-weight="bold" fill="#111" stroke="#111" stroke-width="0.3" stroke-linejoin="round">G</text>
<line x1="61.00" y1="646.30" x2="258.00" y2="646.30" stroke="#5e5e5e" stroke-width="1.25" stroke-dasharray="1.8 0.7"/>
<line x1="60.15" y1="548.20" x2="60.15" y2="651.55" stroke="#1a1a1a" stroke-width="1.5"/>
<line x1="56.75" y1="551.00" x2="60.15" y2="551.00" stroke="#1a1a1a" stroke-width="1.3"/>
<text x="53.65" y="554.00" font-size="8.8" text-anchor="end" textLength="21.80" lengthAdjust="spacingAndGlyphs" fill="#3c3c3c" stroke="#3c3c3c" stroke-width="0.15">50000</text>
<line x1="56.75" y1="570.00" x2="60.15" y2="570.00" stroke="#1a1a1a" stroke-width="1.3"/>
<text x="53.65" y="573.00" font-size="8.8" text-anchor="end" textLength="21.80" lengthAdjust="spacingAndGlyphs" fill="#3c3c3c" stroke="#3c3c3c" stroke-width="0.15">40000</text>
<line x1="56.75" y1="589.00" x2="60.15" y2="589.00" stroke="#1a1a1a" stroke-width="1.3"/>
<text x="53.65" y="592.00" font-size="8.8" text-anchor="end" textLength="21.80" lengthAdjust="spacingAndGlyphs" fill="#3c3c3c" stroke="#3c3c3c" stroke-width="0.15">30000</text>
<line x1="56.75" y1="608.00" x2="60.15" y2="608.00" stroke="#1a1a1a" stroke-width="1.3"/>
<text x="53.65" y="611.00" font-size="8.8" text-anchor="end" textLength="21.80" lengthAdjust="spacingAndGlyphs" fill="#3c3c3c" stroke="#3c3c3c" stroke-width="0.15">20000</text>
<line x1="56.75" y1="627.00" x2="60.15" y2="627.00" stroke="#1a1a1a" stroke-width="1.3"/>
<text x="53.65" y="630.00" font-size="8.8" text-anchor="end" textLength="21.80" lengthAdjust="spacingAndGlyphs" fill="#3c3c3c" stroke="#3c3c3c" stroke-width="0.15">10000</text>
<line x1="56.75" y1="646.00" x2="60.15" y2="646.00" stroke="#1a1a1a" stroke-width="1.3"/>
<text x="53.65" y="649.00" font-size="8.8" text-anchor="end" textLength="4.30" lengthAdjust="spacingAndGlyphs" fill="#3c3c3c" stroke="#3c3c3c" stroke-width="0.15">0</text>
<text x="24.40" y="600.00" font-size="9.4" text-anchor="middle" textLength="42.60" lengthAdjust="spacingAndGlyphs" transform="rotate(-90 24.40 600.00)" fill="#3c3c3c" stroke="#3c3c3c" stroke-width="0.15">IgM (ng/mL)</text>
<line x1="59.40" y1="650.80" x2="258.00" y2="650.80" stroke="#1a1a1a" stroke-width="1.5"/>
<line x1="100.00" y1="650.90" x2="100.00" y2="653.80" stroke="#1a1a1a" stroke-width="1.3"/>
<text x="99.80" y="664.00" font-size="9.2" text-anchor="middle" textLength="31.50" lengthAdjust="spacingAndGlyphs" fill="#3c3c3c" stroke="#3c3c3c" stroke-width="0.15">Controls</text>
<line x1="159.70" y1="650.90" x2="159.70" y2="653.80" stroke="#1a1a1a" stroke-width="1.3"/>
<text x="159.50" y="664.00" font-size="9.2" text-anchor="middle" textLength="11.00" lengthAdjust="spacingAndGlyphs" fill="#3c3c3c" stroke="#3c3c3c" stroke-width="0.15">On</text>
<line x1="219.70" y1="650.90" x2="219.70" y2="653.80" stroke="#1a1a1a" stroke-width="1.3"/>
<text x="219.50" y="664.00" font-size="9.2" text-anchor="middle" textLength="10.50" lengthAdjust="spacingAndGlyphs" fill="#3c3c3c" stroke="#3c3c3c" stroke-width="0.15">Off</text>
<path d="M99.30 542.10V540.80H216.30V542.10" fill="none" stroke="#000" stroke-width="1.3"/>
<text x="157.50" y="541.00" font-size="8.5" text-anchor="middle" font-weight="bold" fill="#333">**</text>
<path d="M99.30 557.10V555.80H156.00V557.10" fill="none" stroke="#000" stroke-width="1.3"/>
<text x="127.00" y="556.00" font-size="8.5" text-anchor="middle" font-weight="bold" fill="#333">****</text>
<path d="M161.30 557.10V555.80H216.30V557.10" fill="none" stroke="#000" stroke-width="1.3"/>
<text x="189.30" y="556.00" font-size="8.5" text-anchor="middle" font-weight="bold" fill="#333">*</text>
<line x1="167.50" y1="670.60" x2="219.30" y2="670.60" stroke="#111" stroke-width="1.4"/>
<line x1="167.50" y1="668.60" x2="167.50" y2="672.60" stroke="#111" stroke-width="1.3"/>
<line x1="219.30" y1="668.60" x2="219.30" y2="672.60" stroke="#111" stroke-width="1.3"/>
<text x="193.30" y="683.00" font-size="9.2" text-anchor="middle" textLength="39.00" lengthAdjust="spacingAndGlyphs" fill="#3c3c3c" stroke="#3c3c3c" stroke-width="0.15">IVIG status</text>
<text x="254.10" y="527.00" font-size="11.4" text-anchor="start" font-weight="bold" fill="#111" stroke="#111" stroke-width="0.3" stroke-linejoin="round">H</text>
<line x1="307.30" y1="643.60" x2="507.50" y2="643.60" stroke="#5e5e5e" stroke-width="1.25" stroke-dasharray="1.8 0.7"/>
<line x1="306.45" y1="546.90" x2="306.45" y2="651.55" stroke="#1a1a1a" stroke-width="1.5"/>
<line x1="303.05" y1="549.80" x2="306.45" y2="549.80" stroke="#1a1a1a" stroke-width="1.3"/>
<text x="299.95" y="552.00" font-size="8.8" text-anchor="end" textLength="21.80" lengthAdjust="spacingAndGlyphs" fill="#3c3c3c" stroke="#3c3c3c" stroke-width="0.15">50000</text>
<line x1="303.05" y1="568.50" x2="306.45" y2="568.50" stroke="#1a1a1a" stroke-width="1.3"/>
<text x="299.95" y="571.00" font-size="8.8" text-anchor="end" textLength="21.80" lengthAdjust="spacingAndGlyphs" fill="#3c3c3c" stroke="#3c3c3c" stroke-width="0.15">40000</text>
<line x1="303.05" y1="587.20" x2="306.45" y2="587.20" stroke="#1a1a1a" stroke-width="1.3"/>
<text x="299.95" y="590.00" font-size="8.8" text-anchor="end" textLength="21.80" lengthAdjust="spacingAndGlyphs" fill="#3c3c3c" stroke="#3c3c3c" stroke-width="0.15">30000</text>
<line x1="303.05" y1="605.90" x2="306.45" y2="605.90" stroke="#1a1a1a" stroke-width="1.3"/>
<text x="299.95" y="609.00" font-size="8.8" text-anchor="end" textLength="21.80" lengthAdjust="spacingAndGlyphs" fill="#3c3c3c" stroke="#3c3c3c" stroke-width="0.15">20000</text>
<line x1="303.05" y1="624.60" x2="306.45" y2="624.60" stroke="#1a1a1a" stroke-width="1.3"/>
<text x="299.95" y="627.00" font-size="8.8" text-anchor="end" textLength="21.80" lengthAdjust="spacingAndGlyphs" fill="#3c3c3c" stroke="#3c3c3c" stroke-width="0.15">10000</text>
<line x1="303.05" y1="643.30" x2="306.45" y2="643.30" stroke="#1a1a1a" stroke-width="1.3"/>
<text x="299.95" y="646.00" font-size="8.8" text-anchor="end" textLength="4.30" lengthAdjust="spacingAndGlyphs" fill="#3c3c3c" stroke="#3c3c3c" stroke-width="0.15">0</text>
<text x="269.30" y="599.00" font-size="9.4" text-anchor="middle" textLength="40.80" lengthAdjust="spacingAndGlyphs" transform="rotate(-90 269.30 599.00)" fill="#3c3c3c" stroke="#3c3c3c" stroke-width="0.15">IgG (ng/mL)</text>
<line x1="305.70" y1="650.80" x2="507.50" y2="650.80" stroke="#1a1a1a" stroke-width="1.5"/>
<line x1="346.70" y1="650.90" x2="346.70" y2="653.80" stroke="#1a1a1a" stroke-width="1.3"/>
<text x="346.50" y="664.00" font-size="9.2" text-anchor="middle" textLength="31.50" lengthAdjust="spacingAndGlyphs" fill="#3c3c3c" stroke="#3c3c3c" stroke-width="0.15">Controls</text>
<line x1="407.00" y1="650.90" x2="407.00" y2="653.80" stroke="#1a1a1a" stroke-width="1.3"/>
<text x="406.80" y="664.00" font-size="9.2" text-anchor="middle" textLength="11.00" lengthAdjust="spacingAndGlyphs" fill="#3c3c3c" stroke="#3c3c3c" stroke-width="0.15">On</text>
<line x1="467.50" y1="650.90" x2="467.50" y2="653.80" stroke="#1a1a1a" stroke-width="1.3"/>
<text x="467.30" y="664.00" font-size="9.2" text-anchor="middle" textLength="10.50" lengthAdjust="spacingAndGlyphs" fill="#3c3c3c" stroke="#3c3c3c" stroke-width="0.15">Off</text>
<path d="M345.50 539.80V538.50H402.00V539.80" fill="none" stroke="#000" stroke-width="1.3"/>
<text x="373.80" y="539.00" font-size="8.5" text-anchor="middle" font-weight="bold" fill="#333">****</text>
<path d="M404.30 550.60V549.30H464.80V550.60" fill="none" stroke="#000" stroke-width="1.3"/>
<text x="434.50" y="550.00" font-size="8.5" text-anchor="middle" font-weight="bold" fill="#333">**</text>
<line x1="414.50" y1="670.60" x2="466.30" y2="670.60" stroke="#111" stroke-width="1.4"/>
<line x1="414.50" y1="668.60" x2="414.50" y2="672.60" stroke="#111" stroke-width="1.3"/>
<line x1="466.30" y1="668.60" x2="466.30" y2="672.60" stroke="#111" stroke-width="1.3"/>
<text x="440.80" y="683.00" font-size="9.2" text-anchor="middle" textLength="39.00" lengthAdjust="spacingAndGlyphs" fill="#3c3c3c" stroke="#3c3c3c" stroke-width="0.15">IVIG status</text>
<line x1="98.00" y1="225.40" x2="98.00" y2="260.50" stroke="#1a1a1a" stroke-width="1.35"/>
<line x1="94.40" y1="225.40" x2="101.60" y2="225.40" stroke="#1a1a1a" stroke-width="1.35"/>
<line x1="94.40" y1="260.50" x2="101.60" y2="260.50" stroke="#1a1a1a" stroke-width="1.35"/>
<line x1="79.00" y1="248.30" x2="117.50" y2="248.30" stroke="#1a1a1a" stroke-width="1.4"/>
<line x1="212.10" y1="264.00" x2="212.10" y2="285.90" stroke="#1a1a1a" stroke-width="1.35"/>
<line x1="208.50" y1="264.00" x2="215.70" y2="264.00" stroke="#1a1a1a" stroke-width="1.35"/>
<line x1="192.70" y1="275.70" x2="231.40" y2="275.70" stroke="#1a1a1a" stroke-width="1.4"/>
<line x1="346.50" y1="227.80" x2="346.50" y2="263.50" stroke="#1a1a1a" stroke-width="1.35"/>
<line x1="342.90" y1="227.80" x2="350.10" y2="227.80" stroke="#1a1a1a" stroke-width="1.35"/>
<line x1="342.90" y1="263.50" x2="350.10" y2="263.50" stroke="#1a1a1a" stroke-width="1.35"/>
<line x1="327.50" y1="252.30" x2="365.80" y2="252.30" stroke="#1a1a1a" stroke-width="1.4"/>
<line x1="406.30" y1="269.80" x2="406.30" y2="282.80" stroke="#7d1833" stroke-width="1.35"/>
<line x1="401.50" y1="269.80" x2="411.10" y2="269.80" stroke="#7d1833" stroke-width="1.35"/>
<line x1="466.30" y1="232.00" x2="466.30" y2="282.80" stroke="#1a1a1a" stroke-width="1.35"/>
<line x1="462.00" y1="232.00" x2="470.60" y2="232.00" stroke="#1a1a1a" stroke-width="1.35"/>
<line x1="447.30" y1="256.50" x2="485.80" y2="256.50" stroke="#1a1a1a" stroke-width="1.4"/>
<line x1="90.80" y1="402.50" x2="90.80" y2="439.00" stroke="#1a1a1a" stroke-width="1.35"/>
<line x1="87.20" y1="402.50" x2="94.40" y2="402.50" stroke="#1a1a1a" stroke-width="1.35"/>
<line x1="87.20" y1="439.00" x2="94.40" y2="439.00" stroke="#1a1a1a" stroke-width="1.35"/>
<line x1="75.50" y1="426.30" x2="106.30" y2="426.30" stroke="#1a1a1a" stroke-width="1.4"/>
<line x1="183.00" y1="450.80" x2="183.00" y2="465.80" stroke="#1a1a1a" stroke-width="1.35"/>
<line x1="178.40" y1="450.80" x2="187.60" y2="450.80" stroke="#1a1a1a" stroke-width="1.35"/>
<line x1="167.50" y1="459.80" x2="198.00" y2="459.80" stroke="#1a1a1a" stroke-width="1.4"/>
<line x1="229.00" y1="436.50" x2="229.00" y2="454.50" stroke="#1a1a1a" stroke-width="1.35"/>
<line x1="224.40" y1="436.50" x2="233.60" y2="436.50" stroke="#1a1a1a" stroke-width="1.35"/>
<line x1="214.00" y1="448.80" x2="244.50" y2="448.80" stroke="#1a1a1a" stroke-width="1.4"/>
<line x1="338.00" y1="406.30" x2="338.00" y2="443.00" stroke="#1a1a1a" stroke-width="1.35"/>
<line x1="334.40" y1="406.30" x2="341.60" y2="406.30" stroke="#1a1a1a" stroke-width="1.35"/>
<line x1="334.40" y1="443.00" x2="341.60" y2="443.00" stroke="#1a1a1a" stroke-width="1.35"/>
<line x1="322.50" y1="431.00" x2="353.30" y2="431.00" stroke="#1a1a1a" stroke-width="1.4"/>
<line x1="385.40" y1="455.50" x2="385.40" y2="462.50" stroke="#7d1833" stroke-width="1.35"/>
<line x1="382.40" y1="455.50" x2="388.40" y2="455.50" stroke="#7d1833" stroke-width="1.35"/>
<line x1="433.00" y1="437.00" x2="433.00" y2="462.50" stroke="#1a1a1a" stroke-width="1.35"/>
<line x1="428.20" y1="437.00" x2="437.80" y2="437.00" stroke="#1a1a1a" stroke-width="1.35"/>
<line x1="417.50" y1="455.30" x2="448.80" y2="455.30" stroke="#1a1a1a" stroke-width="1.4"/>
<line x1="480.50" y1="408.50" x2="480.50" y2="445.50" stroke="#1a1a1a" stroke-width="1.35"/>
<line x1="475.70" y1="408.50" x2="485.30" y2="408.50" stroke="#1a1a1a" stroke-width="1.35"/>
<line x1="475.70" y1="445.50" x2="485.30" y2="445.50" stroke="#1a1a1a" stroke-width="1.35"/>
<line x1="465.00" y1="429.50" x2="495.80" y2="429.50" stroke="#1a1a1a" stroke-width="1.4"/>
<line x1="99.80" y1="583.00" x2="99.80" y2="619.30" stroke="#1a1a1a" stroke-width="1.35"/>
<line x1="96.20" y1="583.00" x2="103.40" y2="583.00" stroke="#1a1a1a" stroke-width="1.35"/>
<line x1="96.20" y1="619.30" x2="103.40" y2="619.30" stroke="#1a1a1a" stroke-width="1.35"/>
<line x1="80.50" y1="607.00" x2="119.00" y2="607.00" stroke="#1a1a1a" stroke-width="1.4"/>
<line x1="219.50" y1="624.00" x2="219.50" y2="646.00" stroke="#1a1a1a" stroke-width="1.35"/>
<line x1="215.20" y1="624.00" x2="223.80" y2="624.00" stroke="#1a1a1a" stroke-width="1.35"/>
<line x1="200.50" y1="635.50" x2="238.80" y2="635.50" stroke="#1a1a1a" stroke-width="1.4"/>
<line x1="346.50" y1="587.80" x2="346.50" y2="624.00" stroke="#1a1a1a" stroke-width="1.35"/>
<line x1="342.90" y1="587.80" x2="350.10" y2="587.80" stroke="#1a1a1a" stroke-width="1.35"/>
<line x1="342.90" y1="624.00" x2="350.10" y2="624.00" stroke="#1a1a1a" stroke-width="1.35"/>
<line x1="327.50" y1="612.30" x2="365.80" y2="612.30" stroke="#1a1a1a" stroke-width="1.4"/>
<line x1="406.80" y1="634.50" x2="406.80" y2="643.30" stroke="#1a1a1a" stroke-width="1.35"/>
<line x1="402.30" y1="634.50" x2="411.30" y2="634.50" stroke="#1a1a1a" stroke-width="1.35"/>
<line x1="467.30" y1="595.30" x2="467.30" y2="643.30" stroke="#1a1a1a" stroke-width="1.35"/>
<line x1="463.10" y1="595.30" x2="471.50" y2="595.30" stroke="#1a1a1a" stroke-width="1.35"/>
<line x1="448.30" y1="623.50" x2="486.50" y2="623.50" stroke="#1a1a1a" stroke-width="1.4"/>
<circle cx="95.80" cy="218.90" r="1.8" fill="#c9ddab" fill-opacity="0.8" stroke="#6b9140" stroke-width="0.95"/>
<circle cx="102.80" cy="221.30" r="1.8" fill="#c9ddab" fill-opacity="0.8" stroke="#6b9140" stroke-width="0.95"/>
<circle cx="100.70" cy="223.80" r="1.8" fill="#c9ddab" fill-opacity="0.8" stroke="#6b9140" stroke-width="0.95"/>
<circle cx="95.50" cy="225.80" r="1.8" fill="#c9ddab" fill-opacity="0.8" stroke="#6b9140" stroke-width="0.95"/>
<circle cx="93.70" cy="237.20" r="1.8" fill="#c9ddab" fill-opacity="0.8" stroke="#6b9140" stroke-width="0.95"/>
<circle cx="102.80" cy="236.80" r="1.8" fill="#c9ddab" fill-opacity="0.8" stroke="#6b9140" stroke-width="0.95"/>
<circle cx="98.10" cy="240.60" r="1.8" fill="#c9ddab" fill-opacity="0.8" stroke="#6b9140" stroke-width="0.95"/>
<circle cx="93.90" cy="248.20" r="1.8" fill="#c9ddab" fill-opacity="0.8" stroke="#6b9140" stroke-width="0.95"/>
<circle cx="102.80" cy="249.60" r="1.8" fill="#c9ddab" fill-opacity="0.8" stroke="#6b9140" stroke-width="0.95"/>
<circle cx="98.20" cy="251.70" r="1.8" fill="#c9ddab" fill-opacity="0.8" stroke="#6b9140" stroke-width="0.95"/>
<circle cx="95.50" cy="260.30" r="1.8" fill="#c9ddab" fill-opacity="0.8" stroke="#6b9140" stroke-width="0.95"/>
<circle cx="100.70" cy="260.40" r="1.8" fill="#c9ddab" fill-opacity="0.8" stroke="#6b9140" stroke-width="0.95"/>
<circle cx="93.80" cy="264.50" r="1.8" fill="#c9ddab" fill-opacity="0.8" stroke="#6b9140" stroke-width="0.95"/>
<circle cx="102.80" cy="266.90" r="1.8" fill="#c9ddab" fill-opacity="0.8" stroke="#6b9140" stroke-width="0.95"/>
<circle cx="98.10" cy="268.80" r="1.8" fill="#c9ddab" fill-opacity="0.8" stroke="#6b9140" stroke-width="0.95"/>
<circle cx="140.50" cy="285.90" r="1.7" fill="#d4607a" fill-opacity="0.75" stroke="#b3153b" stroke-width="1.2"/>
<circle cx="141.88" cy="285.90" r="1.7" fill="#d4607a" fill-opacity="0.75" stroke="#b3153b" stroke-width="1.2"/>
<circle cx="143.26" cy="285.90" r="1.7" fill="#d4607a" fill-opacity="0.75" stroke="#b3153b" stroke-width="1.2"/>
<circle cx="144.64" cy="285.90" r="1.7" fill="#d4607a" fill-opacity="0.75" stroke="#b3153b" stroke-width="1.2"/>
<circle cx="146.02" cy="285.90" r="1.7" fill="#d4607a" fill-opacity="0.75" stroke="#b3153b" stroke-width="1.2"/>
<circle cx="147.40" cy="285.90" r="1.7" fill="#d4607a" fill-opacity="0.75" stroke="#b3153b" stroke-width="1.2"/>
<circle cx="148.79" cy="285.90" r="1.7" fill="#d4607a" fill-opacity="0.75" stroke="#b3153b" stroke-width="1.2"/>
<circle cx="150.17" cy="285.90" r="1.7" fill="#d4607a" fill-opacity="0.75" stroke="#b3153b" stroke-width="1.2"/>
<circle cx="151.55" cy="285.90" r="1.7" fill="#d4607a" fill-opacity="0.75" stroke="#b3153b" stroke-width="1.2"/>
<circle cx="152.93" cy="285.90" r="1.7" fill="#d4607a" fill-opacity="0.75" stroke="#b3153b" stroke-width="1.2"/>
<circle cx="154.31" cy="285.90" r="1.7" fill="#d4607a" fill-opacity="0.75" stroke="#b3153b" stroke-width="1.2"/>
<circle cx="155.69" cy="285.90" r="1.7" fill="#d4607a" fill-opacity="0.75" stroke="#b3153b" stroke-width="1.2"/>
<circle cx="157.07" cy="285.90" r="1.7" fill="#d4607a" fill-opacity="0.75" stroke="#b3153b" stroke-width="1.2"/>
<circle cx="158.45" cy="285.90" r="1.7" fill="#d4607a" fill-opacity="0.75" stroke="#b3153b" stroke-width="1.2"/>
<circle cx="159.83" cy="285.90" r="1.7" fill="#d4607a" fill-opacity="0.75" stroke="#b3153b" stroke-width="1.2"/>
<circle cx="161.21" cy="285.90" r="1.7" fill="#d4607a" fill-opacity="0.75" stroke="#b3153b" stroke-width="1.2"/>
<circle cx="162.60" cy="285.90" r="1.7" fill="#d4607a" fill-opacity="0.75" stroke="#b3153b" stroke-width="1.2"/>
<circle cx="163.98" cy="285.90" r="1.7" fill="#d4607a" fill-opacity="0.75" stroke="#b3153b" stroke-width="1.2"/>
<circle cx="165.36" cy="285.90" r="1.7" fill="#d4607a" fill-opacity="0.75" stroke="#b3153b" stroke-width="1.2"/>
<circle cx="166.74" cy="285.90" r="1.7" fill="#d4607a" fill-opacity="0.75" stroke="#b3153b" stroke-width="1.2"/>
<circle cx="168.12" cy="285.90" r="1.7" fill="#d4607a" fill-opacity="0.75" stroke="#b3153b" stroke-width="1.2"/>
<circle cx="169.50" cy="285.90" r="1.7" fill="#d4607a" fill-opacity="0.75" stroke="#b3153b" stroke-width="1.2"/>
<circle cx="138.40" cy="284.30" r="1.68" fill="#dcaab7" fill-opacity="0.8" stroke="#8e1d3b" stroke-width="1.2"/>
<circle cx="171.50" cy="284.30" r="1.68" fill="#dcaab7" fill-opacity="0.8" stroke="#8e1d3b" stroke-width="1.2"/>
<circle cx="155.00" cy="256.50" r="1.68" fill="#dcaab7" fill-opacity="0.8" stroke="#8e1d3b" stroke-width="1.2"/>
<circle cx="150.50" cy="270.00" r="1.68" fill="#dcaab7" fill-opacity="0.8" stroke="#8e1d3b" stroke-width="1.2"/>
<circle cx="155.00" cy="270.00" r="1.68" fill="#dcaab7" fill-opacity="0.8" stroke="#8e1d3b" stroke-width="1.2"/>
<circle cx="159.50" cy="270.00" r="1.68" fill="#dcaab7" fill-opacity="0.8" stroke="#8e1d3b" stroke-width="1.2"/>
<circle cx="212.10" cy="225.40" r="1.68" fill="#a4afc6" fill-opacity="0.8" stroke="#2e3f65" stroke-width="1.2"/>
<circle cx="214.50" cy="249.60" r="1.68" fill="#a4afc6" fill-opacity="0.8" stroke="#2e3f65" stroke-width="1.2"/>
<circle cx="209.90" cy="252.30" r="1.68" fill="#a4afc6" fill-opacity="0.8" stroke="#2e3f65" stroke-width="1.2"/>
<circle cx="209.90" cy="263.00" r="1.68" fill="#a4afc6" fill-opacity="0.8" stroke="#2e3f65" stroke-width="1.2"/>
<circle cx="216.70" cy="265.10" r="1.68" fill="#a4afc6" fill-opacity="0.8" stroke="#2e3f65" stroke-width="1.2"/>
<circle cx="214.50" cy="267.50" r="1.68" fill="#a4afc6" fill-opacity="0.8" stroke="#2e3f65" stroke-width="1.2"/>
<circle cx="209.90" cy="270.70" r="1.68" fill="#a4afc6" fill-opacity="0.8" stroke="#2e3f65" stroke-width="1.2"/>
<circle cx="205.40" cy="275.60" r="1.68" fill="#a4afc6" fill-opacity="0.8" stroke="#2e3f65" stroke-width="1.2"/>
<circle cx="209.90" cy="276.70" r="1.68" fill="#a4afc6" fill-opacity="0.8" stroke="#2e3f65" stroke-width="1.2"/>
<circle cx="214.50" cy="276.80" r="1.68" fill="#a4afc6" fill-opacity="0.8" stroke="#2e3f65" stroke-width="1.2"/>
<circle cx="218.90" cy="275.60" r="1.68" fill="#a4afc6" fill-opacity="0.8" stroke="#2e3f65" stroke-width="1.2"/>
<circle cx="203.00" cy="282.00" r="1.68" fill="#a4afc6" fill-opacity="0.8" stroke="#2e3f65" stroke-width="1.2"/>
<circle cx="221.10" cy="282.90" r="1.68" fill="#a4afc6" fill-opacity="0.8" stroke="#2e3f65" stroke-width="1.2"/>
<circle cx="207.60" cy="284.40" r="1.68" fill="#a4afc6" fill-opacity="0.8" stroke="#2e3f65" stroke-width="1.2"/>
<circle cx="212.10" cy="284.60" r="1.68" fill="#a4afc6" fill-opacity="0.8" stroke="#2e3f65" stroke-width="1.2"/>
<circle cx="216.60" cy="284.40" r="1.68" fill="#a4afc6" fill-opacity="0.8" stroke="#2e3f65" stroke-width="1.2"/>
<circle cx="346.50" cy="196.50" r="1.8" fill="#c9ddab" fill-opacity="0.8" stroke="#6b9140" stroke-width="0.95"/>
<circle cx="346.30" cy="216.50" r="1.8" fill="#c9ddab" fill-opacity="0.8" stroke="#6b9140" stroke-width="0.95"/>
<circle cx="349.00" cy="224.00" r="1.8" fill="#c9ddab" fill-opacity="0.8" stroke="#6b9140" stroke-width="0.95"/>
<circle cx="344.00" cy="227.80" r="1.8" fill="#c9ddab" fill-opacity="0.8" stroke="#6b9140" stroke-width="0.95"/>
<circle cx="346.50" cy="244.80" r="1.8" fill="#c9ddab" fill-opacity="0.8" stroke="#6b9140" stroke-width="0.95"/>
<circle cx="341.80" cy="248.80" r="1.8" fill="#c9ddab" fill-opacity="0.8" stroke="#6b9140" stroke-width="0.95"/>
<circle cx="351.20" cy="251.00" r="1.8" fill="#c9ddab" fill-opacity="0.8" stroke="#6b9140" stroke-width="0.95"/>
<circle cx="346.50" cy="252.30" r="1.8" fill="#c9ddab" fill-opacity="0.8" stroke="#6b9140" stroke-width="0.95"/>
<circle cx="334.50" cy="260.80" r="1.8" fill="#c9ddab" fill-opacity="0.8" stroke="#6b9140" stroke-width="0.95"/>
<circle cx="358.30" cy="261.50" r="1.8" fill="#c9ddab" fill-opacity="0.8" stroke="#6b9140" stroke-width="0.95"/>
<circle cx="339.30" cy="263.00" r="1.8" fill="#c9ddab" fill-opacity="0.8" stroke="#6b9140" stroke-width="0.95"/>
<circle cx="353.50" cy="263.00" r="1.8" fill="#c9ddab" fill-opacity="0.8" stroke="#6b9140" stroke-width="0.95"/>
<circle cx="344.00" cy="264.50" r="1.8" fill="#c9ddab" fill-opacity="0.8" stroke="#6b9140" stroke-width="0.95"/>
<circle cx="348.80" cy="264.50" r="1.8" fill="#c9ddab" fill-opacity="0.8" stroke="#6b9140" stroke-width="0.95"/>
<circle cx="346.50" cy="273.50" r="1.8" fill="#c9ddab" fill-opacity="0.8" stroke="#6b9140" stroke-width="0.95"/>
<circle cx="390.30" cy="282.90" r="1.7" fill="#f3d3da" fill-opacity="0.75" stroke="#b3153b" stroke-width="1.2"/>
<circle cx="392.40" cy="282.90" r="1.7" fill="#f3d3da" fill-opacity="0.75" stroke="#b3153b" stroke-width="1.2"/>
<circle cx="394.50" cy="282.90" r="1.7" fill="#f3d3da" fill-opacity="0.75" stroke="#b3153b" stroke-width="1.2"/>
<circle cx="396.60" cy="282.90" r="1.7" fill="#f3d3da" fill-opacity="0.75" stroke="#b3153b" stroke-width="1.2"/>
<circle cx="398.70" cy="282.90" r="1.7" fill="#f3d3da" fill-opacity="0.75" stroke="#b3153b" stroke-width="1.2"/>
<circle cx="400.80" cy="282.90" r="1.7" fill="#f3d3da" fill-opacity="0.75" stroke="#b3153b" stroke-width="1.2"/>
<circle cx="402.90" cy="282.90" r="1.7" fill="#f3d3da" fill-opacity="0.75" stroke="#b3153b" stroke-width="1.2"/>
<circle cx="405.00" cy="282.90" r="1.7" fill="#f3d3da" fill-opacity="0.75" stroke="#b3153b" stroke-width="1.2"/>
<circle cx="407.10" cy="282.90" r="1.7" fill="#f3d3da" fill-opacity="0.75" stroke="#b3153b" stroke-width="1.2"/>
<circle cx="409.20" cy="282.90" r="1.7" fill="#f3d3da" fill-opacity="0.75" stroke="#b3153b" stroke-width="1.2"/>
<circle cx="411.30" cy="282.90" r="1.7" fill="#f3d3da" fill-opacity="0.75" stroke="#b3153b" stroke-width="1.2"/>
<circle cx="413.40" cy="282.90" r="1.7" fill="#f3d3da" fill-opacity="0.75" stroke="#b3153b" stroke-width="1.2"/>
<circle cx="415.50" cy="282.90" r="1.7" fill="#f3d3da" fill-opacity="0.75" stroke="#b3153b" stroke-width="1.2"/>
<circle cx="417.60" cy="282.90" r="1.7" fill="#f3d3da" fill-opacity="0.75" stroke="#b3153b" stroke-width="1.2"/>
<circle cx="419.70" cy="282.90" r="1.7" fill="#f3d3da" fill-opacity="0.75" stroke="#b3153b" stroke-width="1.2"/>
<circle cx="421.80" cy="282.90" r="1.7" fill="#f3d3da" fill-opacity="0.75" stroke="#b3153b" stroke-width="1.2"/>
<circle cx="403.90" cy="233.70" r="1.68" fill="#dcaab7" fill-opacity="0.8" stroke="#8e1d3b" stroke-width="1.2"/>
<circle cx="408.60" cy="238.40" r="1.68" fill="#dcaab7" fill-opacity="0.8" stroke="#8e1d3b" stroke-width="1.2"/>
<circle cx="406.40" cy="248.70" r="1.68" fill="#dcaab7" fill-opacity="0.8" stroke="#8e1d3b" stroke-width="1.2"/>
<circle cx="403.90" cy="252.70" r="1.68" fill="#dcaab7" fill-opacity="0.8" stroke="#8e1d3b" stroke-width="1.2"/>
<circle cx="408.60" cy="255.00" r="1.68" fill="#dcaab7" fill-opacity="0.8" stroke="#8e1d3b" stroke-width="1.2"/>
<circle cx="401.50" cy="269.80" r="1.68" fill="#dcaab7" fill-opacity="0.8" stroke="#8e1d3b" stroke-width="1.2"/>
<circle cx="411.10" cy="269.80" r="1.68" fill="#dcaab7" fill-opacity="0.8" stroke="#8e1d3b" stroke-width="1.2"/>
<circle cx="406.30" cy="272.10" r="1.68" fill="#dcaab7" fill-opacity="0.8" stroke="#8e1d3b" stroke-width="1.2"/>
<circle cx="406.30" cy="276.90" r="1.68" fill="#dcaab7" fill-opacity="0.8" stroke="#8e1d3b" stroke-width="1.2"/>
<circle cx="466.30" cy="222.30" r="1.68" fill="#a4afc6" fill-opacity="0.8" stroke="#2e3f65" stroke-width="1.2"/>
<circle cx="464.00" cy="225.00" r="1.68" fill="#a4afc6" fill-opacity="0.8" stroke="#2e3f65" stroke-width="1.2"/>
<circle cx="471.00" cy="229.30" r="1.68" fill="#a4afc6" fill-opacity="0.8" stroke="#2e3f65" stroke-width="1.2"/>
<circle cx="468.80" cy="231.80" r="1.68" fill="#a4afc6" fill-opacity="0.8" stroke="#2e3f65" stroke-width="1.2"/>
<circle cx="464.00" cy="234.50" r="1.68" fill="#a4afc6" fill-opacity="0.8" stroke="#2e3f65" stroke-width="1.2"/>
<circle cx="459.30" cy="252.80" r="1.68" fill="#a4afc6" fill-opacity="0.8" stroke="#2e3f65" stroke-width="1.2"/>
<circle cx="473.50" cy="254.30" r="1.68" fill="#a4afc6" fill-opacity="0.8" stroke="#2e3f65" stroke-width="1.2"/>
<circle cx="464.00" cy="256.50" r="1.68" fill="#a4afc6" fill-opacity="0.8" stroke="#2e3f65" stroke-width="1.2"/>
<circle cx="468.80" cy="256.50" r="1.68" fill="#a4afc6" fill-opacity="0.8" stroke="#2e3f65" stroke-width="1.2"/>
<circle cx="466.30" cy="272.50" r="1.68" fill="#a4afc6" fill-opacity="0.8" stroke="#2e3f65" stroke-width="1.2"/>
<circle cx="471.00" cy="273.00" r="1.68" fill="#a4afc6" fill-opacity="0.8" stroke="#2e3f65" stroke-width="1.2"/>
<circle cx="461.50" cy="274.50" r="1.68" fill="#a4afc6" fill-opacity="0.8" stroke="#2e3f65" stroke-width="1.2"/>
<circle cx="466.30" cy="277.00" r="1.68" fill="#a4afc6" fill-opacity="0.8" stroke="#2e3f65" stroke-width="1.2"/>
<circle cx="461.50" cy="280.00" r="1.68" fill="#a4afc6" fill-opacity="0.8" stroke="#2e3f65" stroke-width="1.2"/>
<circle cx="471.00" cy="281.50" r="1.68" fill="#a4afc6" fill-opacity="0.8" stroke="#2e3f65" stroke-width="1.2"/>
<circle cx="466.30" cy="282.80" r="1.68" fill="#a4afc6" fill-opacity="0.8" stroke="#2e3f65" stroke-width="1.2"/>
<circle cx="88.30" cy="395.30" r="1.8" fill="#c9ddab" fill-opacity="0.8" stroke="#6b9140" stroke-width="0.95"/>
<circle cx="95.30" cy="397.80" r="1.8" fill="#c9ddab" fill-opacity="0.8" stroke="#6b9140" stroke-width="0.95"/>
<circle cx="93.00" cy="400.00" r="1.8" fill="#c9ddab" fill-opacity="0.8" stroke="#6b9140" stroke-width="0.95"/>
<circle cx="88.00" cy="402.50" r="1.8" fill="#c9ddab" fill-opacity="0.8" stroke="#6b9140" stroke-width="0.95"/>
<circle cx="85.80" cy="414.00" r="1.8" fill="#c9ddab" fill-opacity="0.8" stroke="#6b9140" stroke-width="0.95"/>
<circle cx="95.30" cy="414.00" r="1.8" fill="#c9ddab" fill-opacity="0.8" stroke="#6b9140" stroke-width="0.95"/>
<circle cx="90.50" cy="418.00" r="1.8" fill="#c9ddab" fill-opacity="0.8" stroke="#6b9140" stroke-width="0.95"/>
<circle cx="85.80" cy="426.30" r="1.8" fill="#c9ddab" fill-opacity="0.8" stroke="#6b9140" stroke-width="0.95"/>
<circle cx="95.30" cy="427.50" r="1.8" fill="#c9ddab" fill-opacity="0.8" stroke="#6b9140" stroke-width="0.95"/>
<circle cx="90.50" cy="430.30" r="1.8" fill="#c9ddab" fill-opacity="0.8" stroke="#6b9140" stroke-width="0.95"/>
<circle cx="88.00" cy="438.50" r="1.8" fill="#c9ddab" fill-opacity="0.8" stroke="#6b9140" stroke-width="0.95"/>
<circle cx="93.00" cy="439.00" r="1.8" fill="#c9ddab" fill-opacity="0.8" stroke="#6b9140" stroke-width="0.95"/>
<circle cx="85.80" cy="443.30" r="1.8" fill="#c9ddab" fill-opacity="0.8" stroke="#6b9140" stroke-width="0.95"/>
<circle cx="95.30" cy="446.00" r="1.8" fill="#c9ddab" fill-opacity="0.8" stroke="#6b9140" stroke-width="0.95"/>
<circle cx="90.50" cy="447.80" r="1.8" fill="#c9ddab" fill-opacity="0.8" stroke="#6b9140" stroke-width="0.95"/>
<circle cx="126.50" cy="465.80" r="1.7" fill="#d4607a" fill-opacity="0.75" stroke="#b3153b" stroke-width="1.2"/>
<circle cx="127.53" cy="465.80" r="1.7" fill="#d4607a" fill-opacity="0.75" stroke="#b3153b" stroke-width="1.2"/>
<circle cx="128.55" cy="465.80" r="1.7" fill="#d4607a" fill-opacity="0.75" stroke="#b3153b" stroke-width="1.2"/>
<circle cx="129.57" cy="465.80" r="1.7" fill="#d4607a" fill-opacity="0.75" stroke="#b3153b" stroke-width="1.2"/>
<circle cx="130.60" cy="465.80" r="1.7" fill="#d4607a" fill-opacity="0.75" stroke="#b3153b" stroke-width="1.2"/>
<circle cx="131.62" cy="465.80" r="1.7" fill="#d4607a" fill-opacity="0.75" stroke="#b3153b" stroke-width="1.2"/>
<circle cx="132.65" cy="465.80" r="1.7" fill="#d4607a" fill-opacity="0.75" stroke="#b3153b" stroke-width="1.2"/>
<circle cx="133.68" cy="465.80" r="1.7" fill="#d4607a" fill-opacity="0.75" stroke="#b3153b" stroke-width="1.2"/>
<circle cx="134.70" cy="465.80" r="1.7" fill="#d4607a" fill-opacity="0.75" stroke="#b3153b" stroke-width="1.2"/>
<circle cx="135.72" cy="465.80" r="1.7" fill="#d4607a" fill-opacity="0.75" stroke="#b3153b" stroke-width="1.2"/>
<circle cx="136.75" cy="465.80" r="1.7" fill="#d4607a" fill-opacity="0.75" stroke="#b3153b" stroke-width="1.2"/>
<circle cx="137.78" cy="465.80" r="1.7" fill="#d4607a" fill-opacity="0.75" stroke="#b3153b" stroke-width="1.2"/>
<circle cx="138.80" cy="465.80" r="1.7" fill="#d4607a" fill-opacity="0.75" stroke="#b3153b" stroke-width="1.2"/>
<circle cx="139.82" cy="465.80" r="1.7" fill="#d4607a" fill-opacity="0.75" stroke="#b3153b" stroke-width="1.2"/>
<circle cx="140.85" cy="465.80" r="1.7" fill="#d4607a" fill-opacity="0.75" stroke="#b3153b" stroke-width="1.2"/>
<circle cx="141.88" cy="465.80" r="1.7" fill="#d4607a" fill-opacity="0.75" stroke="#b3153b" stroke-width="1.2"/>
<circle cx="142.90" cy="465.80" r="1.7" fill="#d4607a" fill-opacity="0.75" stroke="#b3153b" stroke-width="1.2"/>
<circle cx="143.93" cy="465.80" r="1.7" fill="#d4607a" fill-opacity="0.75" stroke="#b3153b" stroke-width="1.2"/>
<circle cx="144.95" cy="465.80" r="1.7" fill="#d4607a" fill-opacity="0.75" stroke="#b3153b" stroke-width="1.2"/>
<circle cx="145.97" cy="465.80" r="1.7" fill="#d4607a" fill-opacity="0.75" stroke="#b3153b" stroke-width="1.2"/>
<circle cx="147.00" cy="465.80" r="1.7" fill="#d4607a" fill-opacity="0.75" stroke="#b3153b" stroke-width="1.2"/>
<circle cx="122.60" cy="462.00" r="1.68" fill="#dcaab7" fill-opacity="0.8" stroke="#8e1d3b" stroke-width="1.2"/>
<circle cx="123.80" cy="463.60" r="1.68" fill="#dcaab7" fill-opacity="0.8" stroke="#8e1d3b" stroke-width="1.2"/>
<circle cx="125.00" cy="464.90" r="1.68" fill="#dcaab7" fill-opacity="0.8" stroke="#8e1d3b" stroke-width="1.2"/>
<circle cx="148.50" cy="464.90" r="1.68" fill="#dcaab7" fill-opacity="0.8" stroke="#8e1d3b" stroke-width="1.2"/>
<circle cx="150.00" cy="463.70" r="1.68" fill="#dcaab7" fill-opacity="0.8" stroke="#8e1d3b" stroke-width="1.2"/>
<circle cx="183.00" cy="449.00" r="1.68" fill="#a4afc6" fill-opacity="0.8" stroke="#2e3f65" stroke-width="1.2"/>
<circle cx="183.00" cy="456.80" r="1.68" fill="#a4afc6" fill-opacity="0.8" stroke="#2e3f65" stroke-width="1.2"/>
<circle cx="180.50" cy="465.80" r="1.68" fill="#a4afc6" fill-opacity="0.8" stroke="#2e3f65" stroke-width="1.2"/>
<circle cx="185.50" cy="464.00" r="1.68" fill="#a4afc6" fill-opacity="0.8" stroke="#2e3f65" stroke-width="1.2"/>
<circle cx="229.00" cy="402.00" r="1.68" fill="#b7aaca" fill-opacity="0.8" stroke="#4c3469" stroke-width="1.2"/>
<circle cx="229.00" cy="427.50" r="1.68" fill="#b7aaca" fill-opacity="0.8" stroke="#4c3469" stroke-width="1.2"/>
<circle cx="229.00" cy="435.00" r="1.68" fill="#b7aaca" fill-opacity="0.8" stroke="#4c3469" stroke-width="1.2"/>
<circle cx="231.30" cy="443.30" r="1.68" fill="#b7aaca" fill-opacity="0.8" stroke="#4c3469" stroke-width="1.2"/>
<circle cx="226.50" cy="443.30" r="1.68" fill="#b7aaca" fill-opacity="0.8" stroke="#4c3469" stroke-width="1.2"/>
<circle cx="224.30" cy="448.80" r="1.68" fill="#b7aaca" fill-opacity="0.8" stroke="#4c3469" stroke-width="1.2"/>
<circle cx="229.00" cy="448.80" r="1.68" fill="#b7aaca" fill-opacity="0.8" stroke="#4c3469" stroke-width="1.2"/>
<circle cx="233.80" cy="448.80" r="1.68" fill="#b7aaca" fill-opacity="0.8" stroke="#4c3469" stroke-width="1.2"/>
<circle cx="224.30" cy="454.00" r="1.68" fill="#b7aaca" fill-opacity="0.8" stroke="#4c3469" stroke-width="1.2"/>
<circle cx="229.00" cy="454.00" r="1.68" fill="#b7aaca" fill-opacity="0.8" stroke="#4c3469" stroke-width="1.2"/>
<circle cx="233.80" cy="454.00" r="1.68" fill="#b7aaca" fill-opacity="0.8" stroke="#4c3469" stroke-width="1.2"/>
<circle cx="229.00" cy="462.80" r="1.68" fill="#b7aaca" fill-opacity="0.8" stroke="#4c3469" stroke-width="1.2"/>
<circle cx="338.00" cy="373.80" r="1.8" fill="#c9ddab" fill-opacity="0.8" stroke="#6b9140" stroke-width="0.95"/>
<circle cx="338.00" cy="394.50" r="1.8" fill="#c9ddab" fill-opacity="0.8" stroke="#6b9140" stroke-width="0.95"/>
<circle cx="340.50" cy="402.00" r="1.8" fill="#c9ddab" fill-opacity="0.8" stroke="#6b9140" stroke-width="0.95"/>
<circle cx="335.50" cy="405.80" r="1.8" fill="#c9ddab" fill-opacity="0.8" stroke="#6b9140" stroke-width="0.95"/>
<circle cx="338.00" cy="423.30" r="1.8" fill="#c9ddab" fill-opacity="0.8" stroke="#6b9140" stroke-width="0.95"/>
<circle cx="333.30" cy="427.50" r="1.8" fill="#c9ddab" fill-opacity="0.8" stroke="#6b9140" stroke-width="0.95"/>
<circle cx="342.80" cy="430.00" r="1.8" fill="#c9ddab" fill-opacity="0.8" stroke="#6b9140" stroke-width="0.95"/>
<circle cx="338.00" cy="431.30" r="1.8" fill="#c9ddab" fill-opacity="0.8" stroke="#6b9140" stroke-width="0.95"/>
<circle cx="326.00" cy="440.00" r="1.8" fill="#c9ddab" fill-opacity="0.8" stroke="#6b9140" stroke-width="0.95"/>
<circle cx="350.00" cy="440.80" r="1.8" fill="#c9ddab" fill-opacity="0.8" stroke="#6b9140" stroke-width="0.95"/>
<circle cx="330.80" cy="442.50" r="1.8" fill="#c9ddab" fill-opacity="0.8" stroke="#6b9140" stroke-width="0.95"/>
<circle cx="345.00" cy="442.50" r="1.8" fill="#c9ddab" fill-opacity="0.8" stroke="#6b9140" stroke-width="0.95"/>
<circle cx="335.50" cy="444.00" r="1.8" fill="#c9ddab" fill-opacity="0.8" stroke="#6b9140" stroke-width="0.95"/>
<circle cx="340.50" cy="444.00" r="1.8" fill="#c9ddab" fill-opacity="0.8" stroke="#6b9140" stroke-width="0.95"/>
<circle cx="338.00" cy="453.30" r="1.8" fill="#c9ddab" fill-opacity="0.8" stroke="#6b9140" stroke-width="0.95"/>
<circle cx="373.50" cy="462.60" r="1.7" fill="#d4607a" fill-opacity="0.75" stroke="#b3153b" stroke-width="1.2"/>
<circle cx="374.87" cy="462.60" r="1.7" fill="#d4607a" fill-opacity="0.75" stroke="#b3153b" stroke-width="1.2"/>
<circle cx="376.24" cy="462.60" r="1.7" fill="#d4607a" fill-opacity="0.75" stroke="#b3153b" stroke-width="1.2"/>
<circle cx="377.61" cy="462.60" r="1.7" fill="#d4607a" fill-opacity="0.75" stroke="#b3153b" stroke-width="1.2"/>
<circle cx="378.97" cy="462.60" r="1.7" fill="#d4607a" fill-opacity="0.75" stroke="#b3153b" stroke-width="1.2"/>
<circle cx="380.34" cy="462.60" r="1.7" fill="#d4607a" fill-opacity="0.75" stroke="#b3153b" stroke-width="1.2"/>
<circle cx="381.71" cy="462.60" r="1.7" fill="#d4607a" fill-opacity="0.75" stroke="#b3153b" stroke-width="1.2"/>
<circle cx="383.08" cy="462.60" r="1.7" fill="#d4607a" fill-opacity="0.75" stroke="#b3153b" stroke-width="1.2"/>
<circle cx="384.45" cy="462.60" r="1.7" fill="#d4607a" fill-opacity="0.75" stroke="#b3153b" stroke-width="1.2"/>
<circle cx="385.82" cy="462.60" r="1.7" fill="#d4607a" fill-opacity="0.75" stroke="#b3153b" stroke-width="1.2"/>
<circle cx="387.18" cy="462.60" r="1.7" fill="#d4607a" fill-opacity="0.75" stroke="#b3153b" stroke-width="1.2"/>
<circle cx="388.55" cy="462.60" r="1.7" fill="#d4607a" fill-opacity="0.75" stroke="#b3153b" stroke-width="1.2"/>
<circle cx="389.92" cy="462.60" r="1.7" fill="#d4607a" fill-opacity="0.75" stroke="#b3153b" stroke-width="1.2"/>
<circle cx="391.29" cy="462.60" r="1.7" fill="#d4607a" fill-opacity="0.75" stroke="#b3153b" stroke-width="1.2"/>
<circle cx="392.66" cy="462.60" r="1.7" fill="#d4607a" fill-opacity="0.75" stroke="#b3153b" stroke-width="1.2"/>
<circle cx="394.03" cy="462.60" r="1.7" fill="#d4607a" fill-opacity="0.75" stroke="#b3153b" stroke-width="1.2"/>
<circle cx="395.39" cy="462.60" r="1.7" fill="#d4607a" fill-opacity="0.75" stroke="#b3153b" stroke-width="1.2"/>
<circle cx="396.76" cy="462.60" r="1.7" fill="#d4607a" fill-opacity="0.75" stroke="#b3153b" stroke-width="1.2"/>
<circle cx="398.13" cy="462.60" r="1.7" fill="#d4607a" fill-opacity="0.75" stroke="#b3153b" stroke-width="1.2"/>
<circle cx="399.50" cy="462.60" r="1.7" fill="#d4607a" fill-opacity="0.75" stroke="#b3153b" stroke-width="1.2"/>
<circle cx="371.60" cy="461.40" r="1.68" fill="#dcaab7" fill-opacity="0.8" stroke="#8e1d3b" stroke-width="1.2"/>
<circle cx="385.40" cy="412.40" r="1.68" fill="#dcaab7" fill-opacity="0.8" stroke="#8e1d3b" stroke-width="1.2"/>
<circle cx="385.40" cy="434.20" r="1.68" fill="#dcaab7" fill-opacity="0.8" stroke="#8e1d3b" stroke-width="1.2"/>
<circle cx="387.80" cy="449.00" r="1.68" fill="#dcaab7" fill-opacity="0.8" stroke="#8e1d3b" stroke-width="1.2"/>
<circle cx="383.00" cy="451.10" r="1.68" fill="#dcaab7" fill-opacity="0.8" stroke="#8e1d3b" stroke-width="1.2"/>
<circle cx="383.00" cy="456.90" r="1.68" fill="#dcaab7" fill-opacity="0.8" stroke="#8e1d3b" stroke-width="1.2"/>
<circle cx="387.80" cy="456.90" r="1.68" fill="#dcaab7" fill-opacity="0.8" stroke="#8e1d3b" stroke-width="1.2"/>
<circle cx="433.00" cy="432.00" r="1.68" fill="#a4afc6" fill-opacity="0.8" stroke="#2e3f65" stroke-width="1.2"/>
<circle cx="433.00" cy="451.50" r="1.68" fill="#a4afc6" fill-opacity="0.8" stroke="#2e3f65" stroke-width="1.2"/>
<circle cx="435.30" cy="459.80" r="1.68" fill="#a4afc6" fill-opacity="0.8" stroke="#2e3f65" stroke-width="1.2"/>
<circle cx="430.50" cy="462.50" r="1.68" fill="#a4afc6" fill-opacity="0.8" stroke="#2e3f65" stroke-width="1.2"/>
<circle cx="482.80" cy="400.30" r="1.68" fill="#b7aaca" fill-opacity="0.8" stroke="#4c3469" stroke-width="1.2"/>
<circle cx="475.80" cy="403.50" r="1.68" fill="#b7aaca" fill-opacity="0.8" stroke="#4c3469" stroke-width="1.2"/>
<circle cx="478.30" cy="406.50" r="1.68" fill="#b7aaca" fill-opacity="0.8" stroke="#4c3469" stroke-width="1.2"/>
<circle cx="482.80" cy="409.50" r="1.68" fill="#b7aaca" fill-opacity="0.8" stroke="#4c3469" stroke-width="1.2"/>
<circle cx="480.50" cy="417.30" r="1.68" fill="#b7aaca" fill-opacity="0.8" stroke="#4c3469" stroke-width="1.2"/>
<circle cx="480.50" cy="427.80" r="1.68" fill="#b7aaca" fill-opacity="0.8" stroke="#4c3469" stroke-width="1.2"/>
<circle cx="475.80" cy="431.50" r="1.68" fill="#b7aaca" fill-opacity="0.8" stroke="#4c3469" stroke-width="1.2"/>
<circle cx="485.30" cy="433.30" r="1.68" fill="#b7aaca" fill-opacity="0.8" stroke="#4c3469" stroke-width="1.2"/>
<circle cx="480.50" cy="434.50" r="1.68" fill="#b7aaca" fill-opacity="0.8" stroke="#4c3469" stroke-width="1.2"/>
<circle cx="480.50" cy="450.30" r="1.68" fill="#b7aaca" fill-opacity="0.8" stroke="#4c3469" stroke-width="1.2"/>
<circle cx="482.80" cy="452.00" r="1.68" fill="#b7aaca" fill-opacity="0.8" stroke="#4c3469" stroke-width="1.2"/>
<circle cx="478.00" cy="454.50" r="1.68" fill="#b7aaca" fill-opacity="0.8" stroke="#4c3469" stroke-width="1.2"/>
<circle cx="97.30" cy="576.00" r="1.8" fill="#c9ddab" fill-opacity="0.8" stroke="#6b9140" stroke-width="0.95"/>
<circle cx="104.50" cy="578.30" r="1.8" fill="#c9ddab" fill-opacity="0.8" stroke="#6b9140" stroke-width="0.95"/>
<circle cx="102.00" cy="580.80" r="1.8" fill="#c9ddab" fill-opacity="0.8" stroke="#6b9140" stroke-width="0.95"/>
<circle cx="97.00" cy="583.30" r="1.8" fill="#c9ddab" fill-opacity="0.8" stroke="#6b9140" stroke-width="0.95"/>
<circle cx="95.00" cy="595.00" r="1.8" fill="#c9ddab" fill-opacity="0.8" stroke="#6b9140" stroke-width="0.95"/>
<circle cx="104.50" cy="594.50" r="1.8" fill="#c9ddab" fill-opacity="0.8" stroke="#6b9140" stroke-width="0.95"/>
<circle cx="99.80" cy="598.30" r="1.8" fill="#c9ddab" fill-opacity="0.8" stroke="#6b9140" stroke-width="0.95"/>
<circle cx="95.00" cy="606.80" r="1.8" fill="#c9ddab" fill-opacity="0.8" stroke="#6b9140" stroke-width="0.95"/>
<circle cx="104.50" cy="608.00" r="1.8" fill="#c9ddab" fill-opacity="0.8" stroke="#6b9140" stroke-width="0.95"/>
<circle cx="99.80" cy="610.30" r="1.8" fill="#c9ddab" fill-opacity="0.8" stroke="#6b9140" stroke-width="0.95"/>
<circle cx="97.30" cy="619.30" r="1.8" fill="#c9ddab" fill-opacity="0.8" stroke="#6b9140" stroke-width="0.95"/>
<circle cx="102.00" cy="619.30" r="1.8" fill="#c9ddab" fill-opacity="0.8" stroke="#6b9140" stroke-width="0.95"/>
<circle cx="95.00" cy="623.80" r="1.8" fill="#c9ddab" fill-opacity="0.8" stroke="#6b9140" stroke-width="0.95"/>
<circle cx="104.50" cy="626.50" r="1.8" fill="#c9ddab" fill-opacity="0.8" stroke="#6b9140" stroke-width="0.95"/>
<circle cx="99.80" cy="628.50" r="1.8" fill="#c9ddab" fill-opacity="0.8" stroke="#6b9140" stroke-width="0.95"/>
<circle cx="146.50" cy="646.00" r="1.7" fill="#d4607a" fill-opacity="0.75" stroke="#b3153b" stroke-width="1.2"/>
<circle cx="147.88" cy="646.00" r="1.7" fill="#d4607a" fill-opacity="0.75" stroke="#b3153b" stroke-width="1.2"/>
<circle cx="149.25" cy="646.00" r="1.7" fill="#d4607a" fill-opacity="0.75" stroke="#b3153b" stroke-width="1.2"/>
<circle cx="150.62" cy="646.00" r="1.7" fill="#d4607a" fill-opacity="0.75" stroke="#b3153b" stroke-width="1.2"/>
<circle cx="152.00" cy="646.00" r="1.7" fill="#d4607a" fill-opacity="0.75" stroke="#b3153b" stroke-width="1.2"/>
<circle cx="153.38" cy="646.00" r="1.7" fill="#d4607a" fill-opacity="0.75" stroke="#b3153b" stroke-width="1.2"/>
<circle cx="154.75" cy="646.00" r="1.7" fill="#d4607a" fill-opacity="0.75" stroke="#b3153b" stroke-width="1.2"/>
<circle cx="156.12" cy="646.00" r="1.7" fill="#d4607a" fill-opacity="0.75" stroke="#b3153b" stroke-width="1.2"/>
<circle cx="157.50" cy="646.00" r="1.7" fill="#d4607a" fill-opacity="0.75" stroke="#b3153b" stroke-width="1.2"/>
<circle cx="158.88" cy="646.00" r="1.7" fill="#d4607a" fill-opacity="0.75" stroke="#b3153b" stroke-width="1.2"/>
<circle cx="160.25" cy="646.00" r="1.7" fill="#d4607a" fill-opacity="0.75" stroke="#b3153b" stroke-width="1.2"/>
<circle cx="161.62" cy="646.00" r="1.7" fill="#d4607a" fill-opacity="0.75" stroke="#b3153b" stroke-width="1.2"/>
<circle cx="163.00" cy="646.00" r="1.7" fill="#d4607a" fill-opacity="0.75" stroke="#b3153b" stroke-width="1.2"/>
<circle cx="164.38" cy="646.00" r="1.7" fill="#d4607a" fill-opacity="0.75" stroke="#b3153b" stroke-width="1.2"/>
<circle cx="165.75" cy="646.00" r="1.7" fill="#d4607a" fill-opacity="0.75" stroke="#b3153b" stroke-width="1.2"/>
<circle cx="167.12" cy="646.00" r="1.7" fill="#d4607a" fill-opacity="0.75" stroke="#b3153b" stroke-width="1.2"/>
<circle cx="168.50" cy="646.00" r="1.7" fill="#d4607a" fill-opacity="0.75" stroke="#b3153b" stroke-width="1.2"/>
<circle cx="169.88" cy="646.00" r="1.7" fill="#d4607a" fill-opacity="0.75" stroke="#b3153b" stroke-width="1.2"/>
<circle cx="171.25" cy="646.00" r="1.7" fill="#d4607a" fill-opacity="0.75" stroke="#b3153b" stroke-width="1.2"/>
<circle cx="172.62" cy="646.00" r="1.7" fill="#d4607a" fill-opacity="0.75" stroke="#b3153b" stroke-width="1.2"/>
<circle cx="174.00" cy="646.00" r="1.7" fill="#d4607a" fill-opacity="0.75" stroke="#b3153b" stroke-width="1.2"/>
<circle cx="141.90" cy="642.20" r="1.68" fill="#dcaab7" fill-opacity="0.8" stroke="#8e1d3b" stroke-width="1.2"/>
<circle cx="143.20" cy="643.80" r="1.68" fill="#dcaab7" fill-opacity="0.8" stroke="#8e1d3b" stroke-width="1.2"/>
<circle cx="144.80" cy="645.10" r="1.68" fill="#dcaab7" fill-opacity="0.8" stroke="#8e1d3b" stroke-width="1.2"/>
<circle cx="175.40" cy="645.40" r="1.68" fill="#dcaab7" fill-opacity="0.8" stroke="#8e1d3b" stroke-width="1.2"/>
<circle cx="176.90" cy="644.20" r="1.68" fill="#dcaab7" fill-opacity="0.8" stroke="#8e1d3b" stroke-width="1.2"/>
<circle cx="157.30" cy="629.40" r="1.68" fill="#dcaab7" fill-opacity="0.8" stroke="#8e1d3b" stroke-width="1.2"/>
<circle cx="162.30" cy="630.70" r="1.68" fill="#dcaab7" fill-opacity="0.8" stroke="#8e1d3b" stroke-width="1.2"/>
<circle cx="219.50" cy="582.80" r="1.68" fill="#a4afc6" fill-opacity="0.8" stroke="#2e3f65" stroke-width="1.2"/>
<circle cx="219.50" cy="608.00" r="1.68" fill="#a4afc6" fill-opacity="0.8" stroke="#2e3f65" stroke-width="1.2"/>
<circle cx="222.00" cy="610.80" r="1.68" fill="#a4afc6" fill-opacity="0.8" stroke="#2e3f65" stroke-width="1.2"/>
<circle cx="217.00" cy="615.50" r="1.68" fill="#a4afc6" fill-opacity="0.8" stroke="#2e3f65" stroke-width="1.2"/>
<circle cx="217.00" cy="622.50" r="1.68" fill="#a4afc6" fill-opacity="0.8" stroke="#2e3f65" stroke-width="1.2"/>
<circle cx="222.00" cy="624.50" r="1.68" fill="#a4afc6" fill-opacity="0.8" stroke="#2e3f65" stroke-width="1.2"/>
<circle cx="214.80" cy="626.80" r="1.68" fill="#a4afc6" fill-opacity="0.8" stroke="#2e3f65" stroke-width="1.2"/>
<circle cx="219.50" cy="629.50" r="1.68" fill="#a4afc6" fill-opacity="0.8" stroke="#2e3f65" stroke-width="1.2"/>
<circle cx="224.30" cy="629.50" r="1.68" fill="#a4afc6" fill-opacity="0.8" stroke="#2e3f65" stroke-width="1.2"/>
<circle cx="212.30" cy="635.50" r="1.68" fill="#a4afc6" fill-opacity="0.8" stroke="#2e3f65" stroke-width="1.2"/>
<circle cx="217.00" cy="636.50" r="1.68" fill="#a4afc6" fill-opacity="0.8" stroke="#2e3f65" stroke-width="1.2"/>
<circle cx="222.00" cy="636.50" r="1.68" fill="#a4afc6" fill-opacity="0.8" stroke="#2e3f65" stroke-width="1.2"/>
<circle cx="226.80" cy="635.50" r="1.68" fill="#a4afc6" fill-opacity="0.8" stroke="#2e3f65" stroke-width="1.2"/>
<circle cx="205.00" cy="643.50" r="1.68" fill="#a4afc6" fill-opacity="0.8" stroke="#2e3f65" stroke-width="1.2"/>
<circle cx="210.00" cy="645.50" r="1.68" fill="#a4afc6" fill-opacity="0.8" stroke="#2e3f65" stroke-width="1.2"/>
<circle cx="214.80" cy="646.00" r="1.68" fill="#a4afc6" fill-opacity="0.8" stroke="#2e3f65" stroke-width="1.2"/>
<circle cx="219.50" cy="646.00" r="1.68" fill="#a4afc6" fill-opacity="0.8" stroke="#2e3f65" stroke-width="1.2"/>
<circle cx="224.30" cy="646.00" r="1.68" fill="#a4afc6" fill-opacity="0.8" stroke="#2e3f65" stroke-width="1.2"/>
<circle cx="229.00" cy="645.50" r="1.68" fill="#a4afc6" fill-opacity="0.8" stroke="#2e3f65" stroke-width="1.2"/>
<circle cx="233.80" cy="644.80" r="1.68" fill="#a4afc6" fill-opacity="0.8" stroke="#2e3f65" stroke-width="1.2"/>
<circle cx="346.50" cy="556.30" r="1.8" fill="#c9ddab" fill-opacity="0.8" stroke="#6b9140" stroke-width="0.95"/>
<circle cx="346.50" cy="576.50" r="1.8" fill="#c9ddab" fill-opacity="0.8" stroke="#6b9140" stroke-width="0.95"/>
<circle cx="348.80" cy="583.80" r="1.8" fill="#c9ddab" fill-opacity="0.8" stroke="#6b9140" stroke-width="0.95"/>
<circle cx="344.00" cy="587.80" r="1.8" fill="#c9ddab" fill-opacity="0.8" stroke="#6b9140" stroke-width="0.95"/>
<circle cx="346.50" cy="604.50" r="1.8" fill="#c9ddab" fill-opacity="0.8" stroke="#6b9140" stroke-width="0.95"/>
<circle cx="341.80" cy="608.80" r="1.8" fill="#c9ddab" fill-opacity="0.8" stroke="#6b9140" stroke-width="0.95"/>
<circle cx="351.00" cy="611.00" r="1.8" fill="#c9ddab" fill-opacity="0.8" stroke="#6b9140" stroke-width="0.95"/>
<circle cx="346.50" cy="612.50" r="1.8" fill="#c9ddab" fill-opacity="0.8" stroke="#6b9140" stroke-width="0.95"/>
<circle cx="334.50" cy="621.30" r="1.8" fill="#c9ddab" fill-opacity="0.8" stroke="#6b9140" stroke-width="0.95"/>
<circle cx="358.30" cy="621.80" r="1.8" fill="#c9ddab" fill-opacity="0.8" stroke="#6b9140" stroke-width="0.95"/>
<circle cx="339.30" cy="623.30" r="1.8" fill="#c9ddab" fill-opacity="0.8" stroke="#6b9140" stroke-width="0.95"/>
<circle cx="353.50" cy="623.30" r="1.8" fill="#c9ddab" fill-opacity="0.8" stroke="#6b9140" stroke-width="0.95"/>
<circle cx="344.00" cy="624.80" r="1.8" fill="#c9ddab" fill-opacity="0.8" stroke="#6b9140" stroke-width="0.95"/>
<circle cx="348.80" cy="624.80" r="1.8" fill="#c9ddab" fill-opacity="0.8" stroke="#6b9140" stroke-width="0.95"/>
<circle cx="346.50" cy="633.80" r="1.8" fill="#c9ddab" fill-opacity="0.8" stroke="#6b9140" stroke-width="0.95"/>
<circle cx="392.60" cy="643.40" r="1.7" fill="#f3d3da" fill-opacity="0.75" stroke="#b3153b" stroke-width="1.2"/>
<circle cx="394.81" cy="643.40" r="1.7" fill="#f3d3da" fill-opacity="0.75" stroke="#b3153b" stroke-width="1.2"/>
<circle cx="397.03" cy="643.40" r="1.7" fill="#f3d3da" fill-opacity="0.75" stroke="#b3153b" stroke-width="1.2"/>
<circle cx="399.24" cy="643.40" r="1.7" fill="#f3d3da" fill-opacity="0.75" stroke="#b3153b" stroke-width="1.2"/>
<circle cx="401.46" cy="643.40" r="1.7" fill="#f3d3da" fill-opacity="0.75" stroke="#b3153b" stroke-width="1.2"/>
<circle cx="403.67" cy="643.40" r="1.7" fill="#f3d3da" fill-opacity="0.75" stroke="#b3153b" stroke-width="1.2"/>
<circle cx="405.89" cy="643.40" r="1.7" fill="#f3d3da" fill-opacity="0.75" stroke="#b3153b" stroke-width="1.2"/>
<circle cx="408.10" cy="643.40" r="1.7" fill="#f3d3da" fill-opacity="0.75" stroke="#b3153b" stroke-width="1.2"/>
<circle cx="410.31" cy="643.40" r="1.7" fill="#f3d3da" fill-opacity="0.75" stroke="#b3153b" stroke-width="1.2"/>
<circle cx="412.53" cy="643.40" r="1.7" fill="#f3d3da" fill-opacity="0.75" stroke="#b3153b" stroke-width="1.2"/>
<circle cx="414.74" cy="643.40" r="1.7" fill="#f3d3da" fill-opacity="0.75" stroke="#b3153b" stroke-width="1.2"/>
<circle cx="416.96" cy="643.40" r="1.7" fill="#f3d3da" fill-opacity="0.75" stroke="#b3153b" stroke-width="1.2"/>
<circle cx="419.17" cy="643.40" r="1.7" fill="#f3d3da" fill-opacity="0.75" stroke="#b3153b" stroke-width="1.2"/>
<circle cx="421.39" cy="643.40" r="1.7" fill="#f3d3da" fill-opacity="0.75" stroke="#b3153b" stroke-width="1.2"/>
<circle cx="423.60" cy="643.40" r="1.7" fill="#f3d3da" fill-opacity="0.75" stroke="#b3153b" stroke-width="1.2"/>
<circle cx="388.80" cy="640.50" r="1.68" fill="#dcaab7" fill-opacity="0.8" stroke="#8e1d3b" stroke-width="1.2"/>
<circle cx="406.80" cy="594.00" r="1.68" fill="#dcaab7" fill-opacity="0.8" stroke="#8e1d3b" stroke-width="1.2"/>
<circle cx="402.00" cy="615.50" r="1.68" fill="#dcaab7" fill-opacity="0.8" stroke="#8e1d3b" stroke-width="1.2"/>
<circle cx="406.80" cy="616.80" r="1.68" fill="#dcaab7" fill-opacity="0.8" stroke="#8e1d3b" stroke-width="1.2"/>
<circle cx="411.50" cy="613.00" r="1.68" fill="#dcaab7" fill-opacity="0.8" stroke="#8e1d3b" stroke-width="1.2"/>
<circle cx="406.80" cy="632.00" r="1.68" fill="#dcaab7" fill-opacity="0.8" stroke="#8e1d3b" stroke-width="1.2"/>
<circle cx="406.80" cy="637.50" r="1.68" fill="#dcaab7" fill-opacity="0.8" stroke="#8e1d3b" stroke-width="1.2"/>
<circle cx="464.80" cy="582.00" r="1.68" fill="#a4afc6" fill-opacity="0.8" stroke="#2e3f65" stroke-width="1.2"/>
<circle cx="472.30" cy="585.50" r="1.68" fill="#a4afc6" fill-opacity="0.8" stroke="#2e3f65" stroke-width="1.2"/>
<circle cx="469.80" cy="588.80" r="1.68" fill="#a4afc6" fill-opacity="0.8" stroke="#2e3f65" stroke-width="1.2"/>
<circle cx="462.50" cy="591.50" r="1.68" fill="#a4afc6" fill-opacity="0.8" stroke="#2e3f65" stroke-width="1.2"/>
<circle cx="464.80" cy="594.50" r="1.68" fill="#a4afc6" fill-opacity="0.8" stroke="#2e3f65" stroke-width="1.2"/>
<circle cx="469.80" cy="598.30" r="1.68" fill="#a4afc6" fill-opacity="0.8" stroke="#2e3f65" stroke-width="1.2"/>
<circle cx="467.30" cy="609.00" r="1.68" fill="#a4afc6" fill-opacity="0.8" stroke="#2e3f65" stroke-width="1.2"/>
<circle cx="462.50" cy="614.80" r="1.68" fill="#a4afc6" fill-opacity="0.8" stroke="#2e3f65" stroke-width="1.2"/>
<circle cx="472.00" cy="613.00" r="1.68" fill="#a4afc6" fill-opacity="0.8" stroke="#2e3f65" stroke-width="1.2"/>
<circle cx="467.30" cy="617.30" r="1.68" fill="#a4afc6" fill-opacity="0.8" stroke="#2e3f65" stroke-width="1.2"/>
<circle cx="462.50" cy="629.80" r="1.68" fill="#a4afc6" fill-opacity="0.8" stroke="#2e3f65" stroke-width="1.2"/>
<circle cx="474.50" cy="630.30" r="1.68" fill="#a4afc6" fill-opacity="0.8" stroke="#2e3f65" stroke-width="1.2"/>
<circle cx="467.30" cy="632.00" r="1.68" fill="#a4afc6" fill-opacity="0.8" stroke="#2e3f65" stroke-width="1.2"/>
<circle cx="472.00" cy="632.50" r="1.68" fill="#a4afc6" fill-opacity="0.8" stroke="#2e3f65" stroke-width="1.2"/>
<circle cx="462.50" cy="635.30" r="1.68" fill="#a4afc6" fill-opacity="0.8" stroke="#2e3f65" stroke-width="1.2"/>
<circle cx="467.30" cy="636.80" r="1.68" fill="#a4afc6" fill-opacity="0.8" stroke="#2e3f65" stroke-width="1.2"/>
<circle cx="474.50" cy="641.80" r="1.68" fill="#a4afc6" fill-opacity="0.8" stroke="#2e3f65" stroke-width="1.2"/>
<circle cx="460.00" cy="643.30" r="1.68" fill="#a4afc6" fill-opacity="0.8" stroke="#2e3f65" stroke-width="1.2"/>
<circle cx="464.80" cy="643.30" r="1.68" fill="#a4afc6" fill-opacity="0.8" stroke="#2e3f65" stroke-width="1.2"/>
<circle cx="469.80" cy="643.30" r="1.68" fill="#a4afc6" fill-opacity="0.8" stroke="#2e3f65" stroke-width="1.2"/>
<path d="M0 0H520V690H0Z M1.45 1.2V688.65H518.6V1.2Z" fill="#000" fill-rule="evenodd"/>
</svg>
</body>
</html>
